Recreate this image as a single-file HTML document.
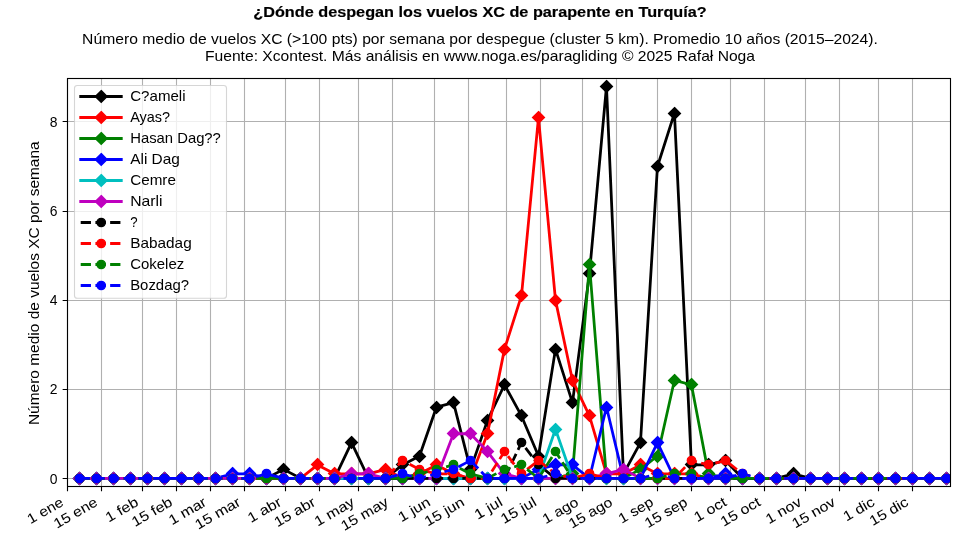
<!DOCTYPE html><html><head><meta charset="utf-8"><title>XC Turquía</title><style>html,body{margin:0;padding:0;background:#fff;overflow:hidden;}svg{display:block;will-change:transform;}</style></head><body>
<svg width="960" height="540" viewBox="0 0 960 540" font-family='"Liberation Sans", sans-serif'>
<rect width="960" height="540" fill="#fff"/>
<text stroke="#000" stroke-width="0.16" x="480.00" y="17.20" text-anchor="middle" font-weight="bold" font-size="13.9" textLength="453.38" lengthAdjust="spacingAndGlyphs">¿Dónde despegan los vuelos XC de parapente en Turquía?</text>
<text x="480.00" y="43.70" text-anchor="middle" font-size="13.9" textLength="795.77" lengthAdjust="spacingAndGlyphs">Número medio de vuelos XC (&gt;100 pts) por semana por despegue (cluster 5 km). Promedio 10 años (2015–2024).</text>
<text x="480.00" y="60.80" text-anchor="middle" font-size="13.9" textLength="550.03" lengthAdjust="spacingAndGlyphs">Fuente: Xcontest. Más análisis en www.noga.es/paragliding © 2025 Rafał Noga</text>
<text transform="translate(39,283.2) rotate(-90)" text-anchor="middle" font-size="13.9" textLength="283.79" lengthAdjust="spacingAndGlyphs">Número medio de vuelos XC por semana</text>
<defs><clipPath id="ax"><rect x="67.5" y="78.5" width="883.0" height="408.0"/></clipPath></defs>
<path d="M67.5,78.5V486.5M101.5,78.5V486.5M142.5,78.5V486.5M176.5,78.5V486.5M210.5,78.5V486.5M244.5,78.5V486.5M285.5,78.5V486.5M319.5,78.5V486.5M358.5,78.5V486.5M392.5,78.5V486.5M434.5,78.5V486.5M468.5,78.5V486.5M506.5,78.5V486.5M540.5,78.5V486.5M582.5,78.5V486.5M616.5,78.5V486.5M657.5,78.5V486.5M691.5,78.5V486.5M730.5,78.5V486.5M764.5,78.5V486.5M805.5,78.5V486.5M839.5,78.5V486.5M878.5,78.5V486.5M912.5,78.5V486.5M67.5,478.5H950.5M67.5,389.5H950.5M67.5,300.5H950.5M67.5,211.5H950.5M67.5,121.5H950.5" stroke="#b0b0b0" stroke-width="1.111" fill="none"/>
<g clip-path="url(#ax)">
<polyline points="79.59,478.30 96.59,478.30 113.58,478.30 130.58,478.30 147.57,478.30 164.57,478.30 181.57,478.30 198.56,478.30 215.56,478.30 232.55,478.30 249.55,478.30 266.55,478.30 283.54,469.39 300.54,478.30 317.53,478.30 334.53,478.30 351.53,442.67 368.52,478.30 385.52,478.30 402.51,464.94 419.51,456.03 436.51,407.04 453.50,402.58 470.50,469.39 487.49,420.40 504.49,384.77 521.49,415.94 538.48,456.03 555.48,349.13 572.47,402.58 589.47,273.42 606.47,86.35 623.46,473.85 640.46,442.67 657.45,166.52 674.45,113.07 691.45,464.94 708.44,464.94 725.44,460.48 742.43,478.30 759.43,478.30 776.43,478.30 793.42,473.85 810.42,478.30 827.41,478.30 844.41,478.30 861.41,478.30 878.40,478.30 895.40,478.30 912.39,478.30 929.39,478.30 946.39,478.30" fill="none" stroke="#000000" stroke-width="2.778" stroke-linejoin="round" stroke-linecap="butt"/>
<path d="M79.50,472.61L85.39,478.50L79.50,484.39L73.61,478.50Z" fill="#000000" stroke="#000000" stroke-width="1.389" stroke-linejoin="miter"/>
<path d="M96.50,472.61L102.39,478.50L96.50,484.39L90.61,478.50Z" fill="#000000" stroke="#000000" stroke-width="1.389" stroke-linejoin="miter"/>
<path d="M113.50,472.61L119.39,478.50L113.50,484.39L107.61,478.50Z" fill="#000000" stroke="#000000" stroke-width="1.389" stroke-linejoin="miter"/>
<path d="M130.50,472.61L136.39,478.50L130.50,484.39L124.61,478.50Z" fill="#000000" stroke="#000000" stroke-width="1.389" stroke-linejoin="miter"/>
<path d="M147.50,472.61L153.39,478.50L147.50,484.39L141.61,478.50Z" fill="#000000" stroke="#000000" stroke-width="1.389" stroke-linejoin="miter"/>
<path d="M164.50,472.61L170.39,478.50L164.50,484.39L158.61,478.50Z" fill="#000000" stroke="#000000" stroke-width="1.389" stroke-linejoin="miter"/>
<path d="M181.50,472.61L187.39,478.50L181.50,484.39L175.61,478.50Z" fill="#000000" stroke="#000000" stroke-width="1.389" stroke-linejoin="miter"/>
<path d="M198.50,472.61L204.39,478.50L198.50,484.39L192.61,478.50Z" fill="#000000" stroke="#000000" stroke-width="1.389" stroke-linejoin="miter"/>
<path d="M215.50,472.61L221.39,478.50L215.50,484.39L209.61,478.50Z" fill="#000000" stroke="#000000" stroke-width="1.389" stroke-linejoin="miter"/>
<path d="M232.50,472.61L238.39,478.50L232.50,484.39L226.61,478.50Z" fill="#000000" stroke="#000000" stroke-width="1.389" stroke-linejoin="miter"/>
<path d="M249.50,472.61L255.39,478.50L249.50,484.39L243.61,478.50Z" fill="#000000" stroke="#000000" stroke-width="1.389" stroke-linejoin="miter"/>
<path d="M266.50,472.61L272.39,478.50L266.50,484.39L260.61,478.50Z" fill="#000000" stroke="#000000" stroke-width="1.389" stroke-linejoin="miter"/>
<path d="M283.50,463.61L289.39,469.50L283.50,475.39L277.61,469.50Z" fill="#000000" stroke="#000000" stroke-width="1.389" stroke-linejoin="miter"/>
<path d="M300.50,472.61L306.39,478.50L300.50,484.39L294.61,478.50Z" fill="#000000" stroke="#000000" stroke-width="1.389" stroke-linejoin="miter"/>
<path d="M317.50,472.61L323.39,478.50L317.50,484.39L311.61,478.50Z" fill="#000000" stroke="#000000" stroke-width="1.389" stroke-linejoin="miter"/>
<path d="M334.50,472.61L340.39,478.50L334.50,484.39L328.61,478.50Z" fill="#000000" stroke="#000000" stroke-width="1.389" stroke-linejoin="miter"/>
<path d="M351.50,436.61L357.39,442.50L351.50,448.39L345.61,442.50Z" fill="#000000" stroke="#000000" stroke-width="1.389" stroke-linejoin="miter"/>
<path d="M368.50,472.61L374.39,478.50L368.50,484.39L362.61,478.50Z" fill="#000000" stroke="#000000" stroke-width="1.389" stroke-linejoin="miter"/>
<path d="M385.50,472.61L391.39,478.50L385.50,484.39L379.61,478.50Z" fill="#000000" stroke="#000000" stroke-width="1.389" stroke-linejoin="miter"/>
<path d="M402.50,458.61L408.39,464.50L402.50,470.39L396.61,464.50Z" fill="#000000" stroke="#000000" stroke-width="1.389" stroke-linejoin="miter"/>
<path d="M419.50,450.61L425.39,456.50L419.50,462.39L413.61,456.50Z" fill="#000000" stroke="#000000" stroke-width="1.389" stroke-linejoin="miter"/>
<path d="M436.50,401.61L442.39,407.50L436.50,413.39L430.61,407.50Z" fill="#000000" stroke="#000000" stroke-width="1.389" stroke-linejoin="miter"/>
<path d="M453.50,396.61L459.39,402.50L453.50,408.39L447.61,402.50Z" fill="#000000" stroke="#000000" stroke-width="1.389" stroke-linejoin="miter"/>
<path d="M470.50,463.61L476.39,469.50L470.50,475.39L464.61,469.50Z" fill="#000000" stroke="#000000" stroke-width="1.389" stroke-linejoin="miter"/>
<path d="M487.50,414.61L493.39,420.50L487.50,426.39L481.61,420.50Z" fill="#000000" stroke="#000000" stroke-width="1.389" stroke-linejoin="miter"/>
<path d="M504.50,378.61L510.39,384.50L504.50,390.39L498.61,384.50Z" fill="#000000" stroke="#000000" stroke-width="1.389" stroke-linejoin="miter"/>
<path d="M521.50,409.61L527.39,415.50L521.50,421.39L515.61,415.50Z" fill="#000000" stroke="#000000" stroke-width="1.389" stroke-linejoin="miter"/>
<path d="M538.50,450.61L544.39,456.50L538.50,462.39L532.61,456.50Z" fill="#000000" stroke="#000000" stroke-width="1.389" stroke-linejoin="miter"/>
<path d="M555.50,343.61L561.39,349.50L555.50,355.39L549.61,349.50Z" fill="#000000" stroke="#000000" stroke-width="1.389" stroke-linejoin="miter"/>
<path d="M572.50,396.61L578.39,402.50L572.50,408.39L566.61,402.50Z" fill="#000000" stroke="#000000" stroke-width="1.389" stroke-linejoin="miter"/>
<path d="M589.50,267.61L595.39,273.50L589.50,279.39L583.61,273.50Z" fill="#000000" stroke="#000000" stroke-width="1.389" stroke-linejoin="miter"/>
<path d="M606.50,80.61L612.39,86.50L606.50,92.39L600.61,86.50Z" fill="#000000" stroke="#000000" stroke-width="1.389" stroke-linejoin="miter"/>
<path d="M623.50,467.61L629.39,473.50L623.50,479.39L617.61,473.50Z" fill="#000000" stroke="#000000" stroke-width="1.389" stroke-linejoin="miter"/>
<path d="M640.50,436.61L646.39,442.50L640.50,448.39L634.61,442.50Z" fill="#000000" stroke="#000000" stroke-width="1.389" stroke-linejoin="miter"/>
<path d="M657.50,160.61L663.39,166.50L657.50,172.39L651.61,166.50Z" fill="#000000" stroke="#000000" stroke-width="1.389" stroke-linejoin="miter"/>
<path d="M674.50,107.61L680.39,113.50L674.50,119.39L668.61,113.50Z" fill="#000000" stroke="#000000" stroke-width="1.389" stroke-linejoin="miter"/>
<path d="M691.50,458.61L697.39,464.50L691.50,470.39L685.61,464.50Z" fill="#000000" stroke="#000000" stroke-width="1.389" stroke-linejoin="miter"/>
<path d="M708.50,458.61L714.39,464.50L708.50,470.39L702.61,464.50Z" fill="#000000" stroke="#000000" stroke-width="1.389" stroke-linejoin="miter"/>
<path d="M725.50,454.61L731.39,460.50L725.50,466.39L719.61,460.50Z" fill="#000000" stroke="#000000" stroke-width="1.389" stroke-linejoin="miter"/>
<path d="M742.50,472.61L748.39,478.50L742.50,484.39L736.61,478.50Z" fill="#000000" stroke="#000000" stroke-width="1.389" stroke-linejoin="miter"/>
<path d="M759.50,472.61L765.39,478.50L759.50,484.39L753.61,478.50Z" fill="#000000" stroke="#000000" stroke-width="1.389" stroke-linejoin="miter"/>
<path d="M776.50,472.61L782.39,478.50L776.50,484.39L770.61,478.50Z" fill="#000000" stroke="#000000" stroke-width="1.389" stroke-linejoin="miter"/>
<path d="M793.50,467.61L799.39,473.50L793.50,479.39L787.61,473.50Z" fill="#000000" stroke="#000000" stroke-width="1.389" stroke-linejoin="miter"/>
<path d="M810.50,472.61L816.39,478.50L810.50,484.39L804.61,478.50Z" fill="#000000" stroke="#000000" stroke-width="1.389" stroke-linejoin="miter"/>
<path d="M827.50,472.61L833.39,478.50L827.50,484.39L821.61,478.50Z" fill="#000000" stroke="#000000" stroke-width="1.389" stroke-linejoin="miter"/>
<path d="M844.50,472.61L850.39,478.50L844.50,484.39L838.61,478.50Z" fill="#000000" stroke="#000000" stroke-width="1.389" stroke-linejoin="miter"/>
<path d="M861.50,472.61L867.39,478.50L861.50,484.39L855.61,478.50Z" fill="#000000" stroke="#000000" stroke-width="1.389" stroke-linejoin="miter"/>
<path d="M878.50,472.61L884.39,478.50L878.50,484.39L872.61,478.50Z" fill="#000000" stroke="#000000" stroke-width="1.389" stroke-linejoin="miter"/>
<path d="M895.50,472.61L901.39,478.50L895.50,484.39L889.61,478.50Z" fill="#000000" stroke="#000000" stroke-width="1.389" stroke-linejoin="miter"/>
<path d="M912.50,472.61L918.39,478.50L912.50,484.39L906.61,478.50Z" fill="#000000" stroke="#000000" stroke-width="1.389" stroke-linejoin="miter"/>
<path d="M929.50,472.61L935.39,478.50L929.50,484.39L923.61,478.50Z" fill="#000000" stroke="#000000" stroke-width="1.389" stroke-linejoin="miter"/>
<path d="M946.50,472.61L952.39,478.50L946.50,484.39L940.61,478.50Z" fill="#000000" stroke="#000000" stroke-width="1.389" stroke-linejoin="miter"/>
<polyline points="79.59,478.30 96.59,478.30 113.58,478.30 130.58,478.30 147.57,478.30 164.57,478.30 181.57,478.30 198.56,478.30 215.56,478.30 232.55,478.30 249.55,478.30 266.55,478.30 283.54,478.30 300.54,478.30 317.53,464.94 334.53,473.85 351.53,473.85 368.52,473.85 385.52,469.39 402.51,478.30 419.51,473.85 436.51,464.94 453.50,473.85 470.50,478.30 487.49,433.76 504.49,349.13 521.49,295.69 538.48,117.53 555.48,300.14 572.47,380.31 589.47,415.94 606.47,473.85 623.46,473.85 640.46,464.94 657.45,473.85 674.45,473.85 691.45,473.85 708.44,478.30 725.44,478.30 742.43,478.30 759.43,478.30 776.43,478.30 793.42,478.30 810.42,478.30 827.41,478.30 844.41,478.30 861.41,478.30 878.40,478.30 895.40,478.30 912.39,478.30 929.39,478.30 946.39,478.30" fill="none" stroke="#ff0000" stroke-width="2.778" stroke-linejoin="round" stroke-linecap="butt"/>
<path d="M79.50,472.61L85.39,478.50L79.50,484.39L73.61,478.50Z" fill="#ff0000" stroke="#ff0000" stroke-width="1.389" stroke-linejoin="miter"/>
<path d="M96.50,472.61L102.39,478.50L96.50,484.39L90.61,478.50Z" fill="#ff0000" stroke="#ff0000" stroke-width="1.389" stroke-linejoin="miter"/>
<path d="M113.50,472.61L119.39,478.50L113.50,484.39L107.61,478.50Z" fill="#ff0000" stroke="#ff0000" stroke-width="1.389" stroke-linejoin="miter"/>
<path d="M130.50,472.61L136.39,478.50L130.50,484.39L124.61,478.50Z" fill="#ff0000" stroke="#ff0000" stroke-width="1.389" stroke-linejoin="miter"/>
<path d="M147.50,472.61L153.39,478.50L147.50,484.39L141.61,478.50Z" fill="#ff0000" stroke="#ff0000" stroke-width="1.389" stroke-linejoin="miter"/>
<path d="M164.50,472.61L170.39,478.50L164.50,484.39L158.61,478.50Z" fill="#ff0000" stroke="#ff0000" stroke-width="1.389" stroke-linejoin="miter"/>
<path d="M181.50,472.61L187.39,478.50L181.50,484.39L175.61,478.50Z" fill="#ff0000" stroke="#ff0000" stroke-width="1.389" stroke-linejoin="miter"/>
<path d="M198.50,472.61L204.39,478.50L198.50,484.39L192.61,478.50Z" fill="#ff0000" stroke="#ff0000" stroke-width="1.389" stroke-linejoin="miter"/>
<path d="M215.50,472.61L221.39,478.50L215.50,484.39L209.61,478.50Z" fill="#ff0000" stroke="#ff0000" stroke-width="1.389" stroke-linejoin="miter"/>
<path d="M232.50,472.61L238.39,478.50L232.50,484.39L226.61,478.50Z" fill="#ff0000" stroke="#ff0000" stroke-width="1.389" stroke-linejoin="miter"/>
<path d="M249.50,472.61L255.39,478.50L249.50,484.39L243.61,478.50Z" fill="#ff0000" stroke="#ff0000" stroke-width="1.389" stroke-linejoin="miter"/>
<path d="M266.50,472.61L272.39,478.50L266.50,484.39L260.61,478.50Z" fill="#ff0000" stroke="#ff0000" stroke-width="1.389" stroke-linejoin="miter"/>
<path d="M283.50,472.61L289.39,478.50L283.50,484.39L277.61,478.50Z" fill="#ff0000" stroke="#ff0000" stroke-width="1.389" stroke-linejoin="miter"/>
<path d="M300.50,472.61L306.39,478.50L300.50,484.39L294.61,478.50Z" fill="#ff0000" stroke="#ff0000" stroke-width="1.389" stroke-linejoin="miter"/>
<path d="M317.50,458.61L323.39,464.50L317.50,470.39L311.61,464.50Z" fill="#ff0000" stroke="#ff0000" stroke-width="1.389" stroke-linejoin="miter"/>
<path d="M334.50,467.61L340.39,473.50L334.50,479.39L328.61,473.50Z" fill="#ff0000" stroke="#ff0000" stroke-width="1.389" stroke-linejoin="miter"/>
<path d="M351.50,467.61L357.39,473.50L351.50,479.39L345.61,473.50Z" fill="#ff0000" stroke="#ff0000" stroke-width="1.389" stroke-linejoin="miter"/>
<path d="M368.50,467.61L374.39,473.50L368.50,479.39L362.61,473.50Z" fill="#ff0000" stroke="#ff0000" stroke-width="1.389" stroke-linejoin="miter"/>
<path d="M385.50,463.61L391.39,469.50L385.50,475.39L379.61,469.50Z" fill="#ff0000" stroke="#ff0000" stroke-width="1.389" stroke-linejoin="miter"/>
<path d="M402.50,472.61L408.39,478.50L402.50,484.39L396.61,478.50Z" fill="#ff0000" stroke="#ff0000" stroke-width="1.389" stroke-linejoin="miter"/>
<path d="M419.50,467.61L425.39,473.50L419.50,479.39L413.61,473.50Z" fill="#ff0000" stroke="#ff0000" stroke-width="1.389" stroke-linejoin="miter"/>
<path d="M436.50,458.61L442.39,464.50L436.50,470.39L430.61,464.50Z" fill="#ff0000" stroke="#ff0000" stroke-width="1.389" stroke-linejoin="miter"/>
<path d="M453.50,467.61L459.39,473.50L453.50,479.39L447.61,473.50Z" fill="#ff0000" stroke="#ff0000" stroke-width="1.389" stroke-linejoin="miter"/>
<path d="M470.50,472.61L476.39,478.50L470.50,484.39L464.61,478.50Z" fill="#ff0000" stroke="#ff0000" stroke-width="1.389" stroke-linejoin="miter"/>
<path d="M487.50,427.61L493.39,433.50L487.50,439.39L481.61,433.50Z" fill="#ff0000" stroke="#ff0000" stroke-width="1.389" stroke-linejoin="miter"/>
<path d="M504.50,343.61L510.39,349.50L504.50,355.39L498.61,349.50Z" fill="#ff0000" stroke="#ff0000" stroke-width="1.389" stroke-linejoin="miter"/>
<path d="M521.50,289.61L527.39,295.50L521.50,301.39L515.61,295.50Z" fill="#ff0000" stroke="#ff0000" stroke-width="1.389" stroke-linejoin="miter"/>
<path d="M538.50,111.61L544.39,117.50L538.50,123.39L532.61,117.50Z" fill="#ff0000" stroke="#ff0000" stroke-width="1.389" stroke-linejoin="miter"/>
<path d="M555.50,294.61L561.39,300.50L555.50,306.39L549.61,300.50Z" fill="#ff0000" stroke="#ff0000" stroke-width="1.389" stroke-linejoin="miter"/>
<path d="M572.50,374.61L578.39,380.50L572.50,386.39L566.61,380.50Z" fill="#ff0000" stroke="#ff0000" stroke-width="1.389" stroke-linejoin="miter"/>
<path d="M589.50,409.61L595.39,415.50L589.50,421.39L583.61,415.50Z" fill="#ff0000" stroke="#ff0000" stroke-width="1.389" stroke-linejoin="miter"/>
<path d="M606.50,467.61L612.39,473.50L606.50,479.39L600.61,473.50Z" fill="#ff0000" stroke="#ff0000" stroke-width="1.389" stroke-linejoin="miter"/>
<path d="M623.50,467.61L629.39,473.50L623.50,479.39L617.61,473.50Z" fill="#ff0000" stroke="#ff0000" stroke-width="1.389" stroke-linejoin="miter"/>
<path d="M640.50,458.61L646.39,464.50L640.50,470.39L634.61,464.50Z" fill="#ff0000" stroke="#ff0000" stroke-width="1.389" stroke-linejoin="miter"/>
<path d="M657.50,467.61L663.39,473.50L657.50,479.39L651.61,473.50Z" fill="#ff0000" stroke="#ff0000" stroke-width="1.389" stroke-linejoin="miter"/>
<path d="M674.50,467.61L680.39,473.50L674.50,479.39L668.61,473.50Z" fill="#ff0000" stroke="#ff0000" stroke-width="1.389" stroke-linejoin="miter"/>
<path d="M691.50,467.61L697.39,473.50L691.50,479.39L685.61,473.50Z" fill="#ff0000" stroke="#ff0000" stroke-width="1.389" stroke-linejoin="miter"/>
<path d="M708.50,472.61L714.39,478.50L708.50,484.39L702.61,478.50Z" fill="#ff0000" stroke="#ff0000" stroke-width="1.389" stroke-linejoin="miter"/>
<path d="M725.50,472.61L731.39,478.50L725.50,484.39L719.61,478.50Z" fill="#ff0000" stroke="#ff0000" stroke-width="1.389" stroke-linejoin="miter"/>
<path d="M742.50,472.61L748.39,478.50L742.50,484.39L736.61,478.50Z" fill="#ff0000" stroke="#ff0000" stroke-width="1.389" stroke-linejoin="miter"/>
<path d="M759.50,472.61L765.39,478.50L759.50,484.39L753.61,478.50Z" fill="#ff0000" stroke="#ff0000" stroke-width="1.389" stroke-linejoin="miter"/>
<path d="M776.50,472.61L782.39,478.50L776.50,484.39L770.61,478.50Z" fill="#ff0000" stroke="#ff0000" stroke-width="1.389" stroke-linejoin="miter"/>
<path d="M793.50,472.61L799.39,478.50L793.50,484.39L787.61,478.50Z" fill="#ff0000" stroke="#ff0000" stroke-width="1.389" stroke-linejoin="miter"/>
<path d="M810.50,472.61L816.39,478.50L810.50,484.39L804.61,478.50Z" fill="#ff0000" stroke="#ff0000" stroke-width="1.389" stroke-linejoin="miter"/>
<path d="M827.50,472.61L833.39,478.50L827.50,484.39L821.61,478.50Z" fill="#ff0000" stroke="#ff0000" stroke-width="1.389" stroke-linejoin="miter"/>
<path d="M844.50,472.61L850.39,478.50L844.50,484.39L838.61,478.50Z" fill="#ff0000" stroke="#ff0000" stroke-width="1.389" stroke-linejoin="miter"/>
<path d="M861.50,472.61L867.39,478.50L861.50,484.39L855.61,478.50Z" fill="#ff0000" stroke="#ff0000" stroke-width="1.389" stroke-linejoin="miter"/>
<path d="M878.50,472.61L884.39,478.50L878.50,484.39L872.61,478.50Z" fill="#ff0000" stroke="#ff0000" stroke-width="1.389" stroke-linejoin="miter"/>
<path d="M895.50,472.61L901.39,478.50L895.50,484.39L889.61,478.50Z" fill="#ff0000" stroke="#ff0000" stroke-width="1.389" stroke-linejoin="miter"/>
<path d="M912.50,472.61L918.39,478.50L912.50,484.39L906.61,478.50Z" fill="#ff0000" stroke="#ff0000" stroke-width="1.389" stroke-linejoin="miter"/>
<path d="M929.50,472.61L935.39,478.50L929.50,484.39L923.61,478.50Z" fill="#ff0000" stroke="#ff0000" stroke-width="1.389" stroke-linejoin="miter"/>
<path d="M946.50,472.61L952.39,478.50L946.50,484.39L940.61,478.50Z" fill="#ff0000" stroke="#ff0000" stroke-width="1.389" stroke-linejoin="miter"/>
<polyline points="79.59,478.30 96.59,478.30 113.58,478.30 130.58,478.30 147.57,478.30 164.57,478.30 181.57,478.30 198.56,478.30 215.56,478.30 232.55,478.30 249.55,478.30 266.55,478.30 283.54,478.30 300.54,478.30 317.53,478.30 334.53,478.30 351.53,478.30 368.52,478.30 385.52,478.30 402.51,478.30 419.51,478.30 436.51,478.30 453.50,478.30 470.50,478.30 487.49,478.30 504.49,478.30 521.49,478.30 538.48,478.30 555.48,478.30 572.47,473.85 589.47,264.51 606.47,478.30 623.46,478.30 640.46,469.39 657.45,456.03 674.45,380.31 691.45,384.77 708.44,473.85 725.44,478.30 742.43,478.30 759.43,478.30 776.43,478.30 793.42,478.30 810.42,478.30 827.41,478.30 844.41,478.30 861.41,478.30 878.40,478.30 895.40,478.30 912.39,478.30 929.39,478.30 946.39,478.30" fill="none" stroke="#008000" stroke-width="2.778" stroke-linejoin="round" stroke-linecap="butt"/>
<path d="M79.50,472.61L85.39,478.50L79.50,484.39L73.61,478.50Z" fill="#008000" stroke="#008000" stroke-width="1.389" stroke-linejoin="miter"/>
<path d="M96.50,472.61L102.39,478.50L96.50,484.39L90.61,478.50Z" fill="#008000" stroke="#008000" stroke-width="1.389" stroke-linejoin="miter"/>
<path d="M113.50,472.61L119.39,478.50L113.50,484.39L107.61,478.50Z" fill="#008000" stroke="#008000" stroke-width="1.389" stroke-linejoin="miter"/>
<path d="M130.50,472.61L136.39,478.50L130.50,484.39L124.61,478.50Z" fill="#008000" stroke="#008000" stroke-width="1.389" stroke-linejoin="miter"/>
<path d="M147.50,472.61L153.39,478.50L147.50,484.39L141.61,478.50Z" fill="#008000" stroke="#008000" stroke-width="1.389" stroke-linejoin="miter"/>
<path d="M164.50,472.61L170.39,478.50L164.50,484.39L158.61,478.50Z" fill="#008000" stroke="#008000" stroke-width="1.389" stroke-linejoin="miter"/>
<path d="M181.50,472.61L187.39,478.50L181.50,484.39L175.61,478.50Z" fill="#008000" stroke="#008000" stroke-width="1.389" stroke-linejoin="miter"/>
<path d="M198.50,472.61L204.39,478.50L198.50,484.39L192.61,478.50Z" fill="#008000" stroke="#008000" stroke-width="1.389" stroke-linejoin="miter"/>
<path d="M215.50,472.61L221.39,478.50L215.50,484.39L209.61,478.50Z" fill="#008000" stroke="#008000" stroke-width="1.389" stroke-linejoin="miter"/>
<path d="M232.50,472.61L238.39,478.50L232.50,484.39L226.61,478.50Z" fill="#008000" stroke="#008000" stroke-width="1.389" stroke-linejoin="miter"/>
<path d="M249.50,472.61L255.39,478.50L249.50,484.39L243.61,478.50Z" fill="#008000" stroke="#008000" stroke-width="1.389" stroke-linejoin="miter"/>
<path d="M266.50,472.61L272.39,478.50L266.50,484.39L260.61,478.50Z" fill="#008000" stroke="#008000" stroke-width="1.389" stroke-linejoin="miter"/>
<path d="M283.50,472.61L289.39,478.50L283.50,484.39L277.61,478.50Z" fill="#008000" stroke="#008000" stroke-width="1.389" stroke-linejoin="miter"/>
<path d="M300.50,472.61L306.39,478.50L300.50,484.39L294.61,478.50Z" fill="#008000" stroke="#008000" stroke-width="1.389" stroke-linejoin="miter"/>
<path d="M317.50,472.61L323.39,478.50L317.50,484.39L311.61,478.50Z" fill="#008000" stroke="#008000" stroke-width="1.389" stroke-linejoin="miter"/>
<path d="M334.50,472.61L340.39,478.50L334.50,484.39L328.61,478.50Z" fill="#008000" stroke="#008000" stroke-width="1.389" stroke-linejoin="miter"/>
<path d="M351.50,472.61L357.39,478.50L351.50,484.39L345.61,478.50Z" fill="#008000" stroke="#008000" stroke-width="1.389" stroke-linejoin="miter"/>
<path d="M368.50,472.61L374.39,478.50L368.50,484.39L362.61,478.50Z" fill="#008000" stroke="#008000" stroke-width="1.389" stroke-linejoin="miter"/>
<path d="M385.50,472.61L391.39,478.50L385.50,484.39L379.61,478.50Z" fill="#008000" stroke="#008000" stroke-width="1.389" stroke-linejoin="miter"/>
<path d="M402.50,472.61L408.39,478.50L402.50,484.39L396.61,478.50Z" fill="#008000" stroke="#008000" stroke-width="1.389" stroke-linejoin="miter"/>
<path d="M419.50,472.61L425.39,478.50L419.50,484.39L413.61,478.50Z" fill="#008000" stroke="#008000" stroke-width="1.389" stroke-linejoin="miter"/>
<path d="M436.50,472.61L442.39,478.50L436.50,484.39L430.61,478.50Z" fill="#008000" stroke="#008000" stroke-width="1.389" stroke-linejoin="miter"/>
<path d="M453.50,472.61L459.39,478.50L453.50,484.39L447.61,478.50Z" fill="#008000" stroke="#008000" stroke-width="1.389" stroke-linejoin="miter"/>
<path d="M470.50,472.61L476.39,478.50L470.50,484.39L464.61,478.50Z" fill="#008000" stroke="#008000" stroke-width="1.389" stroke-linejoin="miter"/>
<path d="M487.50,472.61L493.39,478.50L487.50,484.39L481.61,478.50Z" fill="#008000" stroke="#008000" stroke-width="1.389" stroke-linejoin="miter"/>
<path d="M504.50,472.61L510.39,478.50L504.50,484.39L498.61,478.50Z" fill="#008000" stroke="#008000" stroke-width="1.389" stroke-linejoin="miter"/>
<path d="M521.50,472.61L527.39,478.50L521.50,484.39L515.61,478.50Z" fill="#008000" stroke="#008000" stroke-width="1.389" stroke-linejoin="miter"/>
<path d="M538.50,472.61L544.39,478.50L538.50,484.39L532.61,478.50Z" fill="#008000" stroke="#008000" stroke-width="1.389" stroke-linejoin="miter"/>
<path d="M555.50,472.61L561.39,478.50L555.50,484.39L549.61,478.50Z" fill="#008000" stroke="#008000" stroke-width="1.389" stroke-linejoin="miter"/>
<path d="M572.50,467.61L578.39,473.50L572.50,479.39L566.61,473.50Z" fill="#008000" stroke="#008000" stroke-width="1.389" stroke-linejoin="miter"/>
<path d="M589.50,258.61L595.39,264.50L589.50,270.39L583.61,264.50Z" fill="#008000" stroke="#008000" stroke-width="1.389" stroke-linejoin="miter"/>
<path d="M606.50,472.61L612.39,478.50L606.50,484.39L600.61,478.50Z" fill="#008000" stroke="#008000" stroke-width="1.389" stroke-linejoin="miter"/>
<path d="M623.50,472.61L629.39,478.50L623.50,484.39L617.61,478.50Z" fill="#008000" stroke="#008000" stroke-width="1.389" stroke-linejoin="miter"/>
<path d="M640.50,463.61L646.39,469.50L640.50,475.39L634.61,469.50Z" fill="#008000" stroke="#008000" stroke-width="1.389" stroke-linejoin="miter"/>
<path d="M657.50,450.61L663.39,456.50L657.50,462.39L651.61,456.50Z" fill="#008000" stroke="#008000" stroke-width="1.389" stroke-linejoin="miter"/>
<path d="M674.50,374.61L680.39,380.50L674.50,386.39L668.61,380.50Z" fill="#008000" stroke="#008000" stroke-width="1.389" stroke-linejoin="miter"/>
<path d="M691.50,378.61L697.39,384.50L691.50,390.39L685.61,384.50Z" fill="#008000" stroke="#008000" stroke-width="1.389" stroke-linejoin="miter"/>
<path d="M708.50,467.61L714.39,473.50L708.50,479.39L702.61,473.50Z" fill="#008000" stroke="#008000" stroke-width="1.389" stroke-linejoin="miter"/>
<path d="M725.50,472.61L731.39,478.50L725.50,484.39L719.61,478.50Z" fill="#008000" stroke="#008000" stroke-width="1.389" stroke-linejoin="miter"/>
<path d="M742.50,472.61L748.39,478.50L742.50,484.39L736.61,478.50Z" fill="#008000" stroke="#008000" stroke-width="1.389" stroke-linejoin="miter"/>
<path d="M759.50,472.61L765.39,478.50L759.50,484.39L753.61,478.50Z" fill="#008000" stroke="#008000" stroke-width="1.389" stroke-linejoin="miter"/>
<path d="M776.50,472.61L782.39,478.50L776.50,484.39L770.61,478.50Z" fill="#008000" stroke="#008000" stroke-width="1.389" stroke-linejoin="miter"/>
<path d="M793.50,472.61L799.39,478.50L793.50,484.39L787.61,478.50Z" fill="#008000" stroke="#008000" stroke-width="1.389" stroke-linejoin="miter"/>
<path d="M810.50,472.61L816.39,478.50L810.50,484.39L804.61,478.50Z" fill="#008000" stroke="#008000" stroke-width="1.389" stroke-linejoin="miter"/>
<path d="M827.50,472.61L833.39,478.50L827.50,484.39L821.61,478.50Z" fill="#008000" stroke="#008000" stroke-width="1.389" stroke-linejoin="miter"/>
<path d="M844.50,472.61L850.39,478.50L844.50,484.39L838.61,478.50Z" fill="#008000" stroke="#008000" stroke-width="1.389" stroke-linejoin="miter"/>
<path d="M861.50,472.61L867.39,478.50L861.50,484.39L855.61,478.50Z" fill="#008000" stroke="#008000" stroke-width="1.389" stroke-linejoin="miter"/>
<path d="M878.50,472.61L884.39,478.50L878.50,484.39L872.61,478.50Z" fill="#008000" stroke="#008000" stroke-width="1.389" stroke-linejoin="miter"/>
<path d="M895.50,472.61L901.39,478.50L895.50,484.39L889.61,478.50Z" fill="#008000" stroke="#008000" stroke-width="1.389" stroke-linejoin="miter"/>
<path d="M912.50,472.61L918.39,478.50L912.50,484.39L906.61,478.50Z" fill="#008000" stroke="#008000" stroke-width="1.389" stroke-linejoin="miter"/>
<path d="M929.50,472.61L935.39,478.50L929.50,484.39L923.61,478.50Z" fill="#008000" stroke="#008000" stroke-width="1.389" stroke-linejoin="miter"/>
<path d="M946.50,472.61L952.39,478.50L946.50,484.39L940.61,478.50Z" fill="#008000" stroke="#008000" stroke-width="1.389" stroke-linejoin="miter"/>
<polyline points="79.59,478.30 96.59,478.30 113.58,478.30 130.58,478.30 147.57,478.30 164.57,478.30 181.57,478.30 198.56,478.30 215.56,478.30 232.55,473.85 249.55,473.85 266.55,478.30 283.54,478.30 300.54,478.30 317.53,478.30 334.53,478.30 351.53,478.30 368.52,478.30 385.52,478.30 402.51,478.30 419.51,478.30 436.51,478.30 453.50,478.30 470.50,478.30 487.49,478.30 504.49,478.30 521.49,478.30 538.48,469.39 555.48,464.94 572.47,464.94 589.47,478.30 606.47,407.04 623.46,478.30 640.46,478.30 657.45,442.67 674.45,478.30 691.45,478.30 708.44,478.30 725.44,473.85 742.43,478.30 759.43,478.30 776.43,478.30 793.42,478.30 810.42,478.30 827.41,478.30 844.41,478.30 861.41,478.30 878.40,478.30 895.40,478.30 912.39,478.30 929.39,478.30 946.39,478.30" fill="none" stroke="#0000ff" stroke-width="2.778" stroke-linejoin="round" stroke-linecap="butt"/>
<path d="M79.50,472.61L85.39,478.50L79.50,484.39L73.61,478.50Z" fill="#0000ff" stroke="#0000ff" stroke-width="1.389" stroke-linejoin="miter"/>
<path d="M96.50,472.61L102.39,478.50L96.50,484.39L90.61,478.50Z" fill="#0000ff" stroke="#0000ff" stroke-width="1.389" stroke-linejoin="miter"/>
<path d="M113.50,472.61L119.39,478.50L113.50,484.39L107.61,478.50Z" fill="#0000ff" stroke="#0000ff" stroke-width="1.389" stroke-linejoin="miter"/>
<path d="M130.50,472.61L136.39,478.50L130.50,484.39L124.61,478.50Z" fill="#0000ff" stroke="#0000ff" stroke-width="1.389" stroke-linejoin="miter"/>
<path d="M147.50,472.61L153.39,478.50L147.50,484.39L141.61,478.50Z" fill="#0000ff" stroke="#0000ff" stroke-width="1.389" stroke-linejoin="miter"/>
<path d="M164.50,472.61L170.39,478.50L164.50,484.39L158.61,478.50Z" fill="#0000ff" stroke="#0000ff" stroke-width="1.389" stroke-linejoin="miter"/>
<path d="M181.50,472.61L187.39,478.50L181.50,484.39L175.61,478.50Z" fill="#0000ff" stroke="#0000ff" stroke-width="1.389" stroke-linejoin="miter"/>
<path d="M198.50,472.61L204.39,478.50L198.50,484.39L192.61,478.50Z" fill="#0000ff" stroke="#0000ff" stroke-width="1.389" stroke-linejoin="miter"/>
<path d="M215.50,472.61L221.39,478.50L215.50,484.39L209.61,478.50Z" fill="#0000ff" stroke="#0000ff" stroke-width="1.389" stroke-linejoin="miter"/>
<path d="M232.50,467.61L238.39,473.50L232.50,479.39L226.61,473.50Z" fill="#0000ff" stroke="#0000ff" stroke-width="1.389" stroke-linejoin="miter"/>
<path d="M249.50,467.61L255.39,473.50L249.50,479.39L243.61,473.50Z" fill="#0000ff" stroke="#0000ff" stroke-width="1.389" stroke-linejoin="miter"/>
<path d="M266.50,472.61L272.39,478.50L266.50,484.39L260.61,478.50Z" fill="#0000ff" stroke="#0000ff" stroke-width="1.389" stroke-linejoin="miter"/>
<path d="M283.50,472.61L289.39,478.50L283.50,484.39L277.61,478.50Z" fill="#0000ff" stroke="#0000ff" stroke-width="1.389" stroke-linejoin="miter"/>
<path d="M300.50,472.61L306.39,478.50L300.50,484.39L294.61,478.50Z" fill="#0000ff" stroke="#0000ff" stroke-width="1.389" stroke-linejoin="miter"/>
<path d="M317.50,472.61L323.39,478.50L317.50,484.39L311.61,478.50Z" fill="#0000ff" stroke="#0000ff" stroke-width="1.389" stroke-linejoin="miter"/>
<path d="M334.50,472.61L340.39,478.50L334.50,484.39L328.61,478.50Z" fill="#0000ff" stroke="#0000ff" stroke-width="1.389" stroke-linejoin="miter"/>
<path d="M351.50,472.61L357.39,478.50L351.50,484.39L345.61,478.50Z" fill="#0000ff" stroke="#0000ff" stroke-width="1.389" stroke-linejoin="miter"/>
<path d="M368.50,472.61L374.39,478.50L368.50,484.39L362.61,478.50Z" fill="#0000ff" stroke="#0000ff" stroke-width="1.389" stroke-linejoin="miter"/>
<path d="M385.50,472.61L391.39,478.50L385.50,484.39L379.61,478.50Z" fill="#0000ff" stroke="#0000ff" stroke-width="1.389" stroke-linejoin="miter"/>
<path d="M402.50,472.61L408.39,478.50L402.50,484.39L396.61,478.50Z" fill="#0000ff" stroke="#0000ff" stroke-width="1.389" stroke-linejoin="miter"/>
<path d="M419.50,472.61L425.39,478.50L419.50,484.39L413.61,478.50Z" fill="#0000ff" stroke="#0000ff" stroke-width="1.389" stroke-linejoin="miter"/>
<path d="M436.50,472.61L442.39,478.50L436.50,484.39L430.61,478.50Z" fill="#0000ff" stroke="#0000ff" stroke-width="1.389" stroke-linejoin="miter"/>
<path d="M453.50,472.61L459.39,478.50L453.50,484.39L447.61,478.50Z" fill="#0000ff" stroke="#0000ff" stroke-width="1.389" stroke-linejoin="miter"/>
<path d="M470.50,472.61L476.39,478.50L470.50,484.39L464.61,478.50Z" fill="#0000ff" stroke="#0000ff" stroke-width="1.389" stroke-linejoin="miter"/>
<path d="M487.50,472.61L493.39,478.50L487.50,484.39L481.61,478.50Z" fill="#0000ff" stroke="#0000ff" stroke-width="1.389" stroke-linejoin="miter"/>
<path d="M504.50,472.61L510.39,478.50L504.50,484.39L498.61,478.50Z" fill="#0000ff" stroke="#0000ff" stroke-width="1.389" stroke-linejoin="miter"/>
<path d="M521.50,472.61L527.39,478.50L521.50,484.39L515.61,478.50Z" fill="#0000ff" stroke="#0000ff" stroke-width="1.389" stroke-linejoin="miter"/>
<path d="M538.50,463.61L544.39,469.50L538.50,475.39L532.61,469.50Z" fill="#0000ff" stroke="#0000ff" stroke-width="1.389" stroke-linejoin="miter"/>
<path d="M555.50,458.61L561.39,464.50L555.50,470.39L549.61,464.50Z" fill="#0000ff" stroke="#0000ff" stroke-width="1.389" stroke-linejoin="miter"/>
<path d="M572.50,458.61L578.39,464.50L572.50,470.39L566.61,464.50Z" fill="#0000ff" stroke="#0000ff" stroke-width="1.389" stroke-linejoin="miter"/>
<path d="M589.50,472.61L595.39,478.50L589.50,484.39L583.61,478.50Z" fill="#0000ff" stroke="#0000ff" stroke-width="1.389" stroke-linejoin="miter"/>
<path d="M606.50,401.61L612.39,407.50L606.50,413.39L600.61,407.50Z" fill="#0000ff" stroke="#0000ff" stroke-width="1.389" stroke-linejoin="miter"/>
<path d="M623.50,472.61L629.39,478.50L623.50,484.39L617.61,478.50Z" fill="#0000ff" stroke="#0000ff" stroke-width="1.389" stroke-linejoin="miter"/>
<path d="M640.50,472.61L646.39,478.50L640.50,484.39L634.61,478.50Z" fill="#0000ff" stroke="#0000ff" stroke-width="1.389" stroke-linejoin="miter"/>
<path d="M657.50,436.61L663.39,442.50L657.50,448.39L651.61,442.50Z" fill="#0000ff" stroke="#0000ff" stroke-width="1.389" stroke-linejoin="miter"/>
<path d="M674.50,472.61L680.39,478.50L674.50,484.39L668.61,478.50Z" fill="#0000ff" stroke="#0000ff" stroke-width="1.389" stroke-linejoin="miter"/>
<path d="M691.50,472.61L697.39,478.50L691.50,484.39L685.61,478.50Z" fill="#0000ff" stroke="#0000ff" stroke-width="1.389" stroke-linejoin="miter"/>
<path d="M708.50,472.61L714.39,478.50L708.50,484.39L702.61,478.50Z" fill="#0000ff" stroke="#0000ff" stroke-width="1.389" stroke-linejoin="miter"/>
<path d="M725.50,467.61L731.39,473.50L725.50,479.39L719.61,473.50Z" fill="#0000ff" stroke="#0000ff" stroke-width="1.389" stroke-linejoin="miter"/>
<path d="M742.50,472.61L748.39,478.50L742.50,484.39L736.61,478.50Z" fill="#0000ff" stroke="#0000ff" stroke-width="1.389" stroke-linejoin="miter"/>
<path d="M759.50,472.61L765.39,478.50L759.50,484.39L753.61,478.50Z" fill="#0000ff" stroke="#0000ff" stroke-width="1.389" stroke-linejoin="miter"/>
<path d="M776.50,472.61L782.39,478.50L776.50,484.39L770.61,478.50Z" fill="#0000ff" stroke="#0000ff" stroke-width="1.389" stroke-linejoin="miter"/>
<path d="M793.50,472.61L799.39,478.50L793.50,484.39L787.61,478.50Z" fill="#0000ff" stroke="#0000ff" stroke-width="1.389" stroke-linejoin="miter"/>
<path d="M810.50,472.61L816.39,478.50L810.50,484.39L804.61,478.50Z" fill="#0000ff" stroke="#0000ff" stroke-width="1.389" stroke-linejoin="miter"/>
<path d="M827.50,472.61L833.39,478.50L827.50,484.39L821.61,478.50Z" fill="#0000ff" stroke="#0000ff" stroke-width="1.389" stroke-linejoin="miter"/>
<path d="M844.50,472.61L850.39,478.50L844.50,484.39L838.61,478.50Z" fill="#0000ff" stroke="#0000ff" stroke-width="1.389" stroke-linejoin="miter"/>
<path d="M861.50,472.61L867.39,478.50L861.50,484.39L855.61,478.50Z" fill="#0000ff" stroke="#0000ff" stroke-width="1.389" stroke-linejoin="miter"/>
<path d="M878.50,472.61L884.39,478.50L878.50,484.39L872.61,478.50Z" fill="#0000ff" stroke="#0000ff" stroke-width="1.389" stroke-linejoin="miter"/>
<path d="M895.50,472.61L901.39,478.50L895.50,484.39L889.61,478.50Z" fill="#0000ff" stroke="#0000ff" stroke-width="1.389" stroke-linejoin="miter"/>
<path d="M912.50,472.61L918.39,478.50L912.50,484.39L906.61,478.50Z" fill="#0000ff" stroke="#0000ff" stroke-width="1.389" stroke-linejoin="miter"/>
<path d="M929.50,472.61L935.39,478.50L929.50,484.39L923.61,478.50Z" fill="#0000ff" stroke="#0000ff" stroke-width="1.389" stroke-linejoin="miter"/>
<path d="M946.50,472.61L952.39,478.50L946.50,484.39L940.61,478.50Z" fill="#0000ff" stroke="#0000ff" stroke-width="1.389" stroke-linejoin="miter"/>
<polyline points="79.59,478.30 96.59,478.30 113.58,478.30 130.58,478.30 147.57,478.30 164.57,478.30 181.57,478.30 198.56,478.30 215.56,478.30 232.55,478.30 249.55,478.30 266.55,478.30 283.54,478.30 300.54,478.30 317.53,478.30 334.53,478.30 351.53,478.30 368.52,478.30 385.52,478.30 402.51,478.30 419.51,478.30 436.51,478.30 453.50,478.30 470.50,478.30 487.49,478.30 504.49,478.30 521.49,478.30 538.48,478.30 555.48,429.31 572.47,478.30 589.47,478.30 606.47,478.30 623.46,478.30 640.46,478.30 657.45,478.30 674.45,478.30 691.45,478.30 708.44,478.30 725.44,478.30 742.43,478.30 759.43,478.30 776.43,478.30 793.42,478.30 810.42,478.30 827.41,478.30 844.41,478.30 861.41,478.30 878.40,478.30 895.40,478.30 912.39,478.30 929.39,478.30 946.39,478.30" fill="none" stroke="#00bfbf" stroke-width="2.778" stroke-linejoin="round" stroke-linecap="butt"/>
<path d="M79.50,472.61L85.39,478.50L79.50,484.39L73.61,478.50Z" fill="#00bfbf" stroke="#00bfbf" stroke-width="1.389" stroke-linejoin="miter"/>
<path d="M96.50,472.61L102.39,478.50L96.50,484.39L90.61,478.50Z" fill="#00bfbf" stroke="#00bfbf" stroke-width="1.389" stroke-linejoin="miter"/>
<path d="M113.50,472.61L119.39,478.50L113.50,484.39L107.61,478.50Z" fill="#00bfbf" stroke="#00bfbf" stroke-width="1.389" stroke-linejoin="miter"/>
<path d="M130.50,472.61L136.39,478.50L130.50,484.39L124.61,478.50Z" fill="#00bfbf" stroke="#00bfbf" stroke-width="1.389" stroke-linejoin="miter"/>
<path d="M147.50,472.61L153.39,478.50L147.50,484.39L141.61,478.50Z" fill="#00bfbf" stroke="#00bfbf" stroke-width="1.389" stroke-linejoin="miter"/>
<path d="M164.50,472.61L170.39,478.50L164.50,484.39L158.61,478.50Z" fill="#00bfbf" stroke="#00bfbf" stroke-width="1.389" stroke-linejoin="miter"/>
<path d="M181.50,472.61L187.39,478.50L181.50,484.39L175.61,478.50Z" fill="#00bfbf" stroke="#00bfbf" stroke-width="1.389" stroke-linejoin="miter"/>
<path d="M198.50,472.61L204.39,478.50L198.50,484.39L192.61,478.50Z" fill="#00bfbf" stroke="#00bfbf" stroke-width="1.389" stroke-linejoin="miter"/>
<path d="M215.50,472.61L221.39,478.50L215.50,484.39L209.61,478.50Z" fill="#00bfbf" stroke="#00bfbf" stroke-width="1.389" stroke-linejoin="miter"/>
<path d="M232.50,472.61L238.39,478.50L232.50,484.39L226.61,478.50Z" fill="#00bfbf" stroke="#00bfbf" stroke-width="1.389" stroke-linejoin="miter"/>
<path d="M249.50,472.61L255.39,478.50L249.50,484.39L243.61,478.50Z" fill="#00bfbf" stroke="#00bfbf" stroke-width="1.389" stroke-linejoin="miter"/>
<path d="M266.50,472.61L272.39,478.50L266.50,484.39L260.61,478.50Z" fill="#00bfbf" stroke="#00bfbf" stroke-width="1.389" stroke-linejoin="miter"/>
<path d="M283.50,472.61L289.39,478.50L283.50,484.39L277.61,478.50Z" fill="#00bfbf" stroke="#00bfbf" stroke-width="1.389" stroke-linejoin="miter"/>
<path d="M300.50,472.61L306.39,478.50L300.50,484.39L294.61,478.50Z" fill="#00bfbf" stroke="#00bfbf" stroke-width="1.389" stroke-linejoin="miter"/>
<path d="M317.50,472.61L323.39,478.50L317.50,484.39L311.61,478.50Z" fill="#00bfbf" stroke="#00bfbf" stroke-width="1.389" stroke-linejoin="miter"/>
<path d="M334.50,472.61L340.39,478.50L334.50,484.39L328.61,478.50Z" fill="#00bfbf" stroke="#00bfbf" stroke-width="1.389" stroke-linejoin="miter"/>
<path d="M351.50,472.61L357.39,478.50L351.50,484.39L345.61,478.50Z" fill="#00bfbf" stroke="#00bfbf" stroke-width="1.389" stroke-linejoin="miter"/>
<path d="M368.50,472.61L374.39,478.50L368.50,484.39L362.61,478.50Z" fill="#00bfbf" stroke="#00bfbf" stroke-width="1.389" stroke-linejoin="miter"/>
<path d="M385.50,472.61L391.39,478.50L385.50,484.39L379.61,478.50Z" fill="#00bfbf" stroke="#00bfbf" stroke-width="1.389" stroke-linejoin="miter"/>
<path d="M402.50,472.61L408.39,478.50L402.50,484.39L396.61,478.50Z" fill="#00bfbf" stroke="#00bfbf" stroke-width="1.389" stroke-linejoin="miter"/>
<path d="M419.50,472.61L425.39,478.50L419.50,484.39L413.61,478.50Z" fill="#00bfbf" stroke="#00bfbf" stroke-width="1.389" stroke-linejoin="miter"/>
<path d="M436.50,472.61L442.39,478.50L436.50,484.39L430.61,478.50Z" fill="#00bfbf" stroke="#00bfbf" stroke-width="1.389" stroke-linejoin="miter"/>
<path d="M453.50,472.61L459.39,478.50L453.50,484.39L447.61,478.50Z" fill="#00bfbf" stroke="#00bfbf" stroke-width="1.389" stroke-linejoin="miter"/>
<path d="M470.50,472.61L476.39,478.50L470.50,484.39L464.61,478.50Z" fill="#00bfbf" stroke="#00bfbf" stroke-width="1.389" stroke-linejoin="miter"/>
<path d="M487.50,472.61L493.39,478.50L487.50,484.39L481.61,478.50Z" fill="#00bfbf" stroke="#00bfbf" stroke-width="1.389" stroke-linejoin="miter"/>
<path d="M504.50,472.61L510.39,478.50L504.50,484.39L498.61,478.50Z" fill="#00bfbf" stroke="#00bfbf" stroke-width="1.389" stroke-linejoin="miter"/>
<path d="M521.50,472.61L527.39,478.50L521.50,484.39L515.61,478.50Z" fill="#00bfbf" stroke="#00bfbf" stroke-width="1.389" stroke-linejoin="miter"/>
<path d="M538.50,472.61L544.39,478.50L538.50,484.39L532.61,478.50Z" fill="#00bfbf" stroke="#00bfbf" stroke-width="1.389" stroke-linejoin="miter"/>
<path d="M555.50,423.61L561.39,429.50L555.50,435.39L549.61,429.50Z" fill="#00bfbf" stroke="#00bfbf" stroke-width="1.389" stroke-linejoin="miter"/>
<path d="M572.50,472.61L578.39,478.50L572.50,484.39L566.61,478.50Z" fill="#00bfbf" stroke="#00bfbf" stroke-width="1.389" stroke-linejoin="miter"/>
<path d="M589.50,472.61L595.39,478.50L589.50,484.39L583.61,478.50Z" fill="#00bfbf" stroke="#00bfbf" stroke-width="1.389" stroke-linejoin="miter"/>
<path d="M606.50,472.61L612.39,478.50L606.50,484.39L600.61,478.50Z" fill="#00bfbf" stroke="#00bfbf" stroke-width="1.389" stroke-linejoin="miter"/>
<path d="M623.50,472.61L629.39,478.50L623.50,484.39L617.61,478.50Z" fill="#00bfbf" stroke="#00bfbf" stroke-width="1.389" stroke-linejoin="miter"/>
<path d="M640.50,472.61L646.39,478.50L640.50,484.39L634.61,478.50Z" fill="#00bfbf" stroke="#00bfbf" stroke-width="1.389" stroke-linejoin="miter"/>
<path d="M657.50,472.61L663.39,478.50L657.50,484.39L651.61,478.50Z" fill="#00bfbf" stroke="#00bfbf" stroke-width="1.389" stroke-linejoin="miter"/>
<path d="M674.50,472.61L680.39,478.50L674.50,484.39L668.61,478.50Z" fill="#00bfbf" stroke="#00bfbf" stroke-width="1.389" stroke-linejoin="miter"/>
<path d="M691.50,472.61L697.39,478.50L691.50,484.39L685.61,478.50Z" fill="#00bfbf" stroke="#00bfbf" stroke-width="1.389" stroke-linejoin="miter"/>
<path d="M708.50,472.61L714.39,478.50L708.50,484.39L702.61,478.50Z" fill="#00bfbf" stroke="#00bfbf" stroke-width="1.389" stroke-linejoin="miter"/>
<path d="M725.50,472.61L731.39,478.50L725.50,484.39L719.61,478.50Z" fill="#00bfbf" stroke="#00bfbf" stroke-width="1.389" stroke-linejoin="miter"/>
<path d="M742.50,472.61L748.39,478.50L742.50,484.39L736.61,478.50Z" fill="#00bfbf" stroke="#00bfbf" stroke-width="1.389" stroke-linejoin="miter"/>
<path d="M759.50,472.61L765.39,478.50L759.50,484.39L753.61,478.50Z" fill="#00bfbf" stroke="#00bfbf" stroke-width="1.389" stroke-linejoin="miter"/>
<path d="M776.50,472.61L782.39,478.50L776.50,484.39L770.61,478.50Z" fill="#00bfbf" stroke="#00bfbf" stroke-width="1.389" stroke-linejoin="miter"/>
<path d="M793.50,472.61L799.39,478.50L793.50,484.39L787.61,478.50Z" fill="#00bfbf" stroke="#00bfbf" stroke-width="1.389" stroke-linejoin="miter"/>
<path d="M810.50,472.61L816.39,478.50L810.50,484.39L804.61,478.50Z" fill="#00bfbf" stroke="#00bfbf" stroke-width="1.389" stroke-linejoin="miter"/>
<path d="M827.50,472.61L833.39,478.50L827.50,484.39L821.61,478.50Z" fill="#00bfbf" stroke="#00bfbf" stroke-width="1.389" stroke-linejoin="miter"/>
<path d="M844.50,472.61L850.39,478.50L844.50,484.39L838.61,478.50Z" fill="#00bfbf" stroke="#00bfbf" stroke-width="1.389" stroke-linejoin="miter"/>
<path d="M861.50,472.61L867.39,478.50L861.50,484.39L855.61,478.50Z" fill="#00bfbf" stroke="#00bfbf" stroke-width="1.389" stroke-linejoin="miter"/>
<path d="M878.50,472.61L884.39,478.50L878.50,484.39L872.61,478.50Z" fill="#00bfbf" stroke="#00bfbf" stroke-width="1.389" stroke-linejoin="miter"/>
<path d="M895.50,472.61L901.39,478.50L895.50,484.39L889.61,478.50Z" fill="#00bfbf" stroke="#00bfbf" stroke-width="1.389" stroke-linejoin="miter"/>
<path d="M912.50,472.61L918.39,478.50L912.50,484.39L906.61,478.50Z" fill="#00bfbf" stroke="#00bfbf" stroke-width="1.389" stroke-linejoin="miter"/>
<path d="M929.50,472.61L935.39,478.50L929.50,484.39L923.61,478.50Z" fill="#00bfbf" stroke="#00bfbf" stroke-width="1.389" stroke-linejoin="miter"/>
<path d="M946.50,472.61L952.39,478.50L946.50,484.39L940.61,478.50Z" fill="#00bfbf" stroke="#00bfbf" stroke-width="1.389" stroke-linejoin="miter"/>
<polyline points="79.59,478.30 96.59,478.30 113.58,478.30 130.58,478.30 147.57,478.30 164.57,478.30 181.57,478.30 198.56,478.30 215.56,478.30 232.55,478.30 249.55,478.30 266.55,478.30 283.54,478.30 300.54,478.30 317.53,478.30 334.53,478.30 351.53,473.85 368.52,473.85 385.52,478.30 402.51,478.30 419.51,478.30 436.51,478.30 453.50,433.76 470.50,433.76 487.49,451.58 504.49,473.85 521.49,478.30 538.48,478.30 555.48,478.30 572.47,478.30 589.47,478.30 606.47,473.85 623.46,469.39 640.46,478.30 657.45,478.30 674.45,478.30 691.45,478.30 708.44,478.30 725.44,478.30 742.43,478.30 759.43,478.30 776.43,478.30 793.42,478.30 810.42,478.30 827.41,478.30 844.41,478.30 861.41,478.30 878.40,478.30 895.40,478.30 912.39,478.30 929.39,478.30 946.39,478.30" fill="none" stroke="#bf00bf" stroke-width="2.778" stroke-linejoin="round" stroke-linecap="butt"/>
<path d="M79.50,472.61L85.39,478.50L79.50,484.39L73.61,478.50Z" fill="#bf00bf" stroke="#bf00bf" stroke-width="1.389" stroke-linejoin="miter"/>
<path d="M96.50,472.61L102.39,478.50L96.50,484.39L90.61,478.50Z" fill="#bf00bf" stroke="#bf00bf" stroke-width="1.389" stroke-linejoin="miter"/>
<path d="M113.50,472.61L119.39,478.50L113.50,484.39L107.61,478.50Z" fill="#bf00bf" stroke="#bf00bf" stroke-width="1.389" stroke-linejoin="miter"/>
<path d="M130.50,472.61L136.39,478.50L130.50,484.39L124.61,478.50Z" fill="#bf00bf" stroke="#bf00bf" stroke-width="1.389" stroke-linejoin="miter"/>
<path d="M147.50,472.61L153.39,478.50L147.50,484.39L141.61,478.50Z" fill="#bf00bf" stroke="#bf00bf" stroke-width="1.389" stroke-linejoin="miter"/>
<path d="M164.50,472.61L170.39,478.50L164.50,484.39L158.61,478.50Z" fill="#bf00bf" stroke="#bf00bf" stroke-width="1.389" stroke-linejoin="miter"/>
<path d="M181.50,472.61L187.39,478.50L181.50,484.39L175.61,478.50Z" fill="#bf00bf" stroke="#bf00bf" stroke-width="1.389" stroke-linejoin="miter"/>
<path d="M198.50,472.61L204.39,478.50L198.50,484.39L192.61,478.50Z" fill="#bf00bf" stroke="#bf00bf" stroke-width="1.389" stroke-linejoin="miter"/>
<path d="M215.50,472.61L221.39,478.50L215.50,484.39L209.61,478.50Z" fill="#bf00bf" stroke="#bf00bf" stroke-width="1.389" stroke-linejoin="miter"/>
<path d="M232.50,472.61L238.39,478.50L232.50,484.39L226.61,478.50Z" fill="#bf00bf" stroke="#bf00bf" stroke-width="1.389" stroke-linejoin="miter"/>
<path d="M249.50,472.61L255.39,478.50L249.50,484.39L243.61,478.50Z" fill="#bf00bf" stroke="#bf00bf" stroke-width="1.389" stroke-linejoin="miter"/>
<path d="M266.50,472.61L272.39,478.50L266.50,484.39L260.61,478.50Z" fill="#bf00bf" stroke="#bf00bf" stroke-width="1.389" stroke-linejoin="miter"/>
<path d="M283.50,472.61L289.39,478.50L283.50,484.39L277.61,478.50Z" fill="#bf00bf" stroke="#bf00bf" stroke-width="1.389" stroke-linejoin="miter"/>
<path d="M300.50,472.61L306.39,478.50L300.50,484.39L294.61,478.50Z" fill="#bf00bf" stroke="#bf00bf" stroke-width="1.389" stroke-linejoin="miter"/>
<path d="M317.50,472.61L323.39,478.50L317.50,484.39L311.61,478.50Z" fill="#bf00bf" stroke="#bf00bf" stroke-width="1.389" stroke-linejoin="miter"/>
<path d="M334.50,472.61L340.39,478.50L334.50,484.39L328.61,478.50Z" fill="#bf00bf" stroke="#bf00bf" stroke-width="1.389" stroke-linejoin="miter"/>
<path d="M351.50,467.61L357.39,473.50L351.50,479.39L345.61,473.50Z" fill="#bf00bf" stroke="#bf00bf" stroke-width="1.389" stroke-linejoin="miter"/>
<path d="M368.50,467.61L374.39,473.50L368.50,479.39L362.61,473.50Z" fill="#bf00bf" stroke="#bf00bf" stroke-width="1.389" stroke-linejoin="miter"/>
<path d="M385.50,472.61L391.39,478.50L385.50,484.39L379.61,478.50Z" fill="#bf00bf" stroke="#bf00bf" stroke-width="1.389" stroke-linejoin="miter"/>
<path d="M402.50,472.61L408.39,478.50L402.50,484.39L396.61,478.50Z" fill="#bf00bf" stroke="#bf00bf" stroke-width="1.389" stroke-linejoin="miter"/>
<path d="M419.50,472.61L425.39,478.50L419.50,484.39L413.61,478.50Z" fill="#bf00bf" stroke="#bf00bf" stroke-width="1.389" stroke-linejoin="miter"/>
<path d="M436.50,472.61L442.39,478.50L436.50,484.39L430.61,478.50Z" fill="#bf00bf" stroke="#bf00bf" stroke-width="1.389" stroke-linejoin="miter"/>
<path d="M453.50,427.61L459.39,433.50L453.50,439.39L447.61,433.50Z" fill="#bf00bf" stroke="#bf00bf" stroke-width="1.389" stroke-linejoin="miter"/>
<path d="M470.50,427.61L476.39,433.50L470.50,439.39L464.61,433.50Z" fill="#bf00bf" stroke="#bf00bf" stroke-width="1.389" stroke-linejoin="miter"/>
<path d="M487.50,445.61L493.39,451.50L487.50,457.39L481.61,451.50Z" fill="#bf00bf" stroke="#bf00bf" stroke-width="1.389" stroke-linejoin="miter"/>
<path d="M504.50,467.61L510.39,473.50L504.50,479.39L498.61,473.50Z" fill="#bf00bf" stroke="#bf00bf" stroke-width="1.389" stroke-linejoin="miter"/>
<path d="M521.50,472.61L527.39,478.50L521.50,484.39L515.61,478.50Z" fill="#bf00bf" stroke="#bf00bf" stroke-width="1.389" stroke-linejoin="miter"/>
<path d="M538.50,472.61L544.39,478.50L538.50,484.39L532.61,478.50Z" fill="#bf00bf" stroke="#bf00bf" stroke-width="1.389" stroke-linejoin="miter"/>
<path d="M555.50,472.61L561.39,478.50L555.50,484.39L549.61,478.50Z" fill="#bf00bf" stroke="#bf00bf" stroke-width="1.389" stroke-linejoin="miter"/>
<path d="M572.50,472.61L578.39,478.50L572.50,484.39L566.61,478.50Z" fill="#bf00bf" stroke="#bf00bf" stroke-width="1.389" stroke-linejoin="miter"/>
<path d="M589.50,472.61L595.39,478.50L589.50,484.39L583.61,478.50Z" fill="#bf00bf" stroke="#bf00bf" stroke-width="1.389" stroke-linejoin="miter"/>
<path d="M606.50,467.61L612.39,473.50L606.50,479.39L600.61,473.50Z" fill="#bf00bf" stroke="#bf00bf" stroke-width="1.389" stroke-linejoin="miter"/>
<path d="M623.50,463.61L629.39,469.50L623.50,475.39L617.61,469.50Z" fill="#bf00bf" stroke="#bf00bf" stroke-width="1.389" stroke-linejoin="miter"/>
<path d="M640.50,472.61L646.39,478.50L640.50,484.39L634.61,478.50Z" fill="#bf00bf" stroke="#bf00bf" stroke-width="1.389" stroke-linejoin="miter"/>
<path d="M657.50,472.61L663.39,478.50L657.50,484.39L651.61,478.50Z" fill="#bf00bf" stroke="#bf00bf" stroke-width="1.389" stroke-linejoin="miter"/>
<path d="M674.50,472.61L680.39,478.50L674.50,484.39L668.61,478.50Z" fill="#bf00bf" stroke="#bf00bf" stroke-width="1.389" stroke-linejoin="miter"/>
<path d="M691.50,472.61L697.39,478.50L691.50,484.39L685.61,478.50Z" fill="#bf00bf" stroke="#bf00bf" stroke-width="1.389" stroke-linejoin="miter"/>
<path d="M708.50,472.61L714.39,478.50L708.50,484.39L702.61,478.50Z" fill="#bf00bf" stroke="#bf00bf" stroke-width="1.389" stroke-linejoin="miter"/>
<path d="M725.50,472.61L731.39,478.50L725.50,484.39L719.61,478.50Z" fill="#bf00bf" stroke="#bf00bf" stroke-width="1.389" stroke-linejoin="miter"/>
<path d="M742.50,472.61L748.39,478.50L742.50,484.39L736.61,478.50Z" fill="#bf00bf" stroke="#bf00bf" stroke-width="1.389" stroke-linejoin="miter"/>
<path d="M759.50,472.61L765.39,478.50L759.50,484.39L753.61,478.50Z" fill="#bf00bf" stroke="#bf00bf" stroke-width="1.389" stroke-linejoin="miter"/>
<path d="M776.50,472.61L782.39,478.50L776.50,484.39L770.61,478.50Z" fill="#bf00bf" stroke="#bf00bf" stroke-width="1.389" stroke-linejoin="miter"/>
<path d="M793.50,472.61L799.39,478.50L793.50,484.39L787.61,478.50Z" fill="#bf00bf" stroke="#bf00bf" stroke-width="1.389" stroke-linejoin="miter"/>
<path d="M810.50,472.61L816.39,478.50L810.50,484.39L804.61,478.50Z" fill="#bf00bf" stroke="#bf00bf" stroke-width="1.389" stroke-linejoin="miter"/>
<path d="M827.50,472.61L833.39,478.50L827.50,484.39L821.61,478.50Z" fill="#bf00bf" stroke="#bf00bf" stroke-width="1.389" stroke-linejoin="miter"/>
<path d="M844.50,472.61L850.39,478.50L844.50,484.39L838.61,478.50Z" fill="#bf00bf" stroke="#bf00bf" stroke-width="1.389" stroke-linejoin="miter"/>
<path d="M861.50,472.61L867.39,478.50L861.50,484.39L855.61,478.50Z" fill="#bf00bf" stroke="#bf00bf" stroke-width="1.389" stroke-linejoin="miter"/>
<path d="M878.50,472.61L884.39,478.50L878.50,484.39L872.61,478.50Z" fill="#bf00bf" stroke="#bf00bf" stroke-width="1.389" stroke-linejoin="miter"/>
<path d="M895.50,472.61L901.39,478.50L895.50,484.39L889.61,478.50Z" fill="#bf00bf" stroke="#bf00bf" stroke-width="1.389" stroke-linejoin="miter"/>
<path d="M912.50,472.61L918.39,478.50L912.50,484.39L906.61,478.50Z" fill="#bf00bf" stroke="#bf00bf" stroke-width="1.389" stroke-linejoin="miter"/>
<path d="M929.50,472.61L935.39,478.50L929.50,484.39L923.61,478.50Z" fill="#bf00bf" stroke="#bf00bf" stroke-width="1.389" stroke-linejoin="miter"/>
<path d="M946.50,472.61L952.39,478.50L946.50,484.39L940.61,478.50Z" fill="#bf00bf" stroke="#bf00bf" stroke-width="1.389" stroke-linejoin="miter"/>
<polyline points="79.59,478.30 96.59,478.30 113.58,478.30 130.58,478.30 147.57,478.30 164.57,478.30 181.57,478.30 198.56,478.30 215.56,478.30 232.55,478.30 249.55,478.30 266.55,478.30 283.54,478.30 300.54,478.30 317.53,478.30 334.53,478.30 351.53,478.30 368.52,478.30 385.52,478.30 402.51,478.30 419.51,478.30 436.51,478.30 453.50,478.30 470.50,478.30 487.49,478.30 504.49,478.30 521.49,442.67 538.48,464.94 555.48,478.30 572.47,478.30 589.47,478.30 606.47,478.30 623.46,478.30 640.46,478.30 657.45,478.30 674.45,478.30 691.45,478.30 708.44,478.30 725.44,478.30 742.43,478.30 759.43,478.30 776.43,478.30 793.42,478.30 810.42,478.30 827.41,478.30 844.41,478.30 861.41,478.30 878.40,478.30 895.40,478.30 912.39,478.30 929.39,478.30 946.39,478.30" fill="none" stroke="#000000" stroke-width="2.778" stroke-linejoin="round" stroke-linecap="butt" stroke-dasharray="10.28,4.44"/>
<circle cx="79.50" cy="478.50" r="4.167" fill="#000000" stroke="#000000" stroke-width="1.389"/>
<circle cx="96.50" cy="478.50" r="4.167" fill="#000000" stroke="#000000" stroke-width="1.389"/>
<circle cx="113.50" cy="478.50" r="4.167" fill="#000000" stroke="#000000" stroke-width="1.389"/>
<circle cx="130.50" cy="478.50" r="4.167" fill="#000000" stroke="#000000" stroke-width="1.389"/>
<circle cx="147.50" cy="478.50" r="4.167" fill="#000000" stroke="#000000" stroke-width="1.389"/>
<circle cx="164.50" cy="478.50" r="4.167" fill="#000000" stroke="#000000" stroke-width="1.389"/>
<circle cx="181.50" cy="478.50" r="4.167" fill="#000000" stroke="#000000" stroke-width="1.389"/>
<circle cx="198.50" cy="478.50" r="4.167" fill="#000000" stroke="#000000" stroke-width="1.389"/>
<circle cx="215.50" cy="478.50" r="4.167" fill="#000000" stroke="#000000" stroke-width="1.389"/>
<circle cx="232.50" cy="478.50" r="4.167" fill="#000000" stroke="#000000" stroke-width="1.389"/>
<circle cx="249.50" cy="478.50" r="4.167" fill="#000000" stroke="#000000" stroke-width="1.389"/>
<circle cx="266.50" cy="478.50" r="4.167" fill="#000000" stroke="#000000" stroke-width="1.389"/>
<circle cx="283.50" cy="478.50" r="4.167" fill="#000000" stroke="#000000" stroke-width="1.389"/>
<circle cx="300.50" cy="478.50" r="4.167" fill="#000000" stroke="#000000" stroke-width="1.389"/>
<circle cx="317.50" cy="478.50" r="4.167" fill="#000000" stroke="#000000" stroke-width="1.389"/>
<circle cx="334.50" cy="478.50" r="4.167" fill="#000000" stroke="#000000" stroke-width="1.389"/>
<circle cx="351.50" cy="478.50" r="4.167" fill="#000000" stroke="#000000" stroke-width="1.389"/>
<circle cx="368.50" cy="478.50" r="4.167" fill="#000000" stroke="#000000" stroke-width="1.389"/>
<circle cx="385.50" cy="478.50" r="4.167" fill="#000000" stroke="#000000" stroke-width="1.389"/>
<circle cx="402.50" cy="478.50" r="4.167" fill="#000000" stroke="#000000" stroke-width="1.389"/>
<circle cx="419.50" cy="478.50" r="4.167" fill="#000000" stroke="#000000" stroke-width="1.389"/>
<circle cx="436.50" cy="478.50" r="4.167" fill="#000000" stroke="#000000" stroke-width="1.389"/>
<circle cx="453.50" cy="478.50" r="4.167" fill="#000000" stroke="#000000" stroke-width="1.389"/>
<circle cx="470.50" cy="478.50" r="4.167" fill="#000000" stroke="#000000" stroke-width="1.389"/>
<circle cx="487.50" cy="478.50" r="4.167" fill="#000000" stroke="#000000" stroke-width="1.389"/>
<circle cx="504.50" cy="478.50" r="4.167" fill="#000000" stroke="#000000" stroke-width="1.389"/>
<circle cx="521.50" cy="442.50" r="4.167" fill="#000000" stroke="#000000" stroke-width="1.389"/>
<circle cx="538.50" cy="464.50" r="4.167" fill="#000000" stroke="#000000" stroke-width="1.389"/>
<circle cx="555.50" cy="478.50" r="4.167" fill="#000000" stroke="#000000" stroke-width="1.389"/>
<circle cx="572.50" cy="478.50" r="4.167" fill="#000000" stroke="#000000" stroke-width="1.389"/>
<circle cx="589.50" cy="478.50" r="4.167" fill="#000000" stroke="#000000" stroke-width="1.389"/>
<circle cx="606.50" cy="478.50" r="4.167" fill="#000000" stroke="#000000" stroke-width="1.389"/>
<circle cx="623.50" cy="478.50" r="4.167" fill="#000000" stroke="#000000" stroke-width="1.389"/>
<circle cx="640.50" cy="478.50" r="4.167" fill="#000000" stroke="#000000" stroke-width="1.389"/>
<circle cx="657.50" cy="478.50" r="4.167" fill="#000000" stroke="#000000" stroke-width="1.389"/>
<circle cx="674.50" cy="478.50" r="4.167" fill="#000000" stroke="#000000" stroke-width="1.389"/>
<circle cx="691.50" cy="478.50" r="4.167" fill="#000000" stroke="#000000" stroke-width="1.389"/>
<circle cx="708.50" cy="478.50" r="4.167" fill="#000000" stroke="#000000" stroke-width="1.389"/>
<circle cx="725.50" cy="478.50" r="4.167" fill="#000000" stroke="#000000" stroke-width="1.389"/>
<circle cx="742.50" cy="478.50" r="4.167" fill="#000000" stroke="#000000" stroke-width="1.389"/>
<circle cx="759.50" cy="478.50" r="4.167" fill="#000000" stroke="#000000" stroke-width="1.389"/>
<circle cx="776.50" cy="478.50" r="4.167" fill="#000000" stroke="#000000" stroke-width="1.389"/>
<circle cx="793.50" cy="478.50" r="4.167" fill="#000000" stroke="#000000" stroke-width="1.389"/>
<circle cx="810.50" cy="478.50" r="4.167" fill="#000000" stroke="#000000" stroke-width="1.389"/>
<circle cx="827.50" cy="478.50" r="4.167" fill="#000000" stroke="#000000" stroke-width="1.389"/>
<circle cx="844.50" cy="478.50" r="4.167" fill="#000000" stroke="#000000" stroke-width="1.389"/>
<circle cx="861.50" cy="478.50" r="4.167" fill="#000000" stroke="#000000" stroke-width="1.389"/>
<circle cx="878.50" cy="478.50" r="4.167" fill="#000000" stroke="#000000" stroke-width="1.389"/>
<circle cx="895.50" cy="478.50" r="4.167" fill="#000000" stroke="#000000" stroke-width="1.389"/>
<circle cx="912.50" cy="478.50" r="4.167" fill="#000000" stroke="#000000" stroke-width="1.389"/>
<circle cx="929.50" cy="478.50" r="4.167" fill="#000000" stroke="#000000" stroke-width="1.389"/>
<circle cx="946.50" cy="478.50" r="4.167" fill="#000000" stroke="#000000" stroke-width="1.389"/>
<polyline points="79.59,478.30 96.59,478.30 113.58,478.30 130.58,478.30 147.57,478.30 164.57,478.30 181.57,478.30 198.56,478.30 215.56,478.30 232.55,478.30 249.55,478.30 266.55,478.30 283.54,478.30 300.54,478.30 317.53,478.30 334.53,478.30 351.53,478.30 368.52,478.30 385.52,478.30 402.51,460.48 419.51,469.39 436.51,473.85 453.50,473.85 470.50,478.30 487.49,478.30 504.49,451.58 521.49,473.85 538.48,460.48 555.48,473.85 572.47,478.30 589.47,473.85 606.47,478.30 623.46,478.30 640.46,478.30 657.45,478.30 674.45,478.30 691.45,460.48 708.44,464.94 725.44,460.48 742.43,473.85 759.43,478.30 776.43,478.30 793.42,478.30 810.42,478.30 827.41,478.30 844.41,478.30 861.41,478.30 878.40,478.30 895.40,478.30 912.39,478.30 929.39,478.30 946.39,478.30" fill="none" stroke="#ff0000" stroke-width="2.778" stroke-linejoin="round" stroke-linecap="butt" stroke-dasharray="10.28,4.44"/>
<circle cx="79.50" cy="478.50" r="4.167" fill="#ff0000" stroke="#ff0000" stroke-width="1.389"/>
<circle cx="96.50" cy="478.50" r="4.167" fill="#ff0000" stroke="#ff0000" stroke-width="1.389"/>
<circle cx="113.50" cy="478.50" r="4.167" fill="#ff0000" stroke="#ff0000" stroke-width="1.389"/>
<circle cx="130.50" cy="478.50" r="4.167" fill="#ff0000" stroke="#ff0000" stroke-width="1.389"/>
<circle cx="147.50" cy="478.50" r="4.167" fill="#ff0000" stroke="#ff0000" stroke-width="1.389"/>
<circle cx="164.50" cy="478.50" r="4.167" fill="#ff0000" stroke="#ff0000" stroke-width="1.389"/>
<circle cx="181.50" cy="478.50" r="4.167" fill="#ff0000" stroke="#ff0000" stroke-width="1.389"/>
<circle cx="198.50" cy="478.50" r="4.167" fill="#ff0000" stroke="#ff0000" stroke-width="1.389"/>
<circle cx="215.50" cy="478.50" r="4.167" fill="#ff0000" stroke="#ff0000" stroke-width="1.389"/>
<circle cx="232.50" cy="478.50" r="4.167" fill="#ff0000" stroke="#ff0000" stroke-width="1.389"/>
<circle cx="249.50" cy="478.50" r="4.167" fill="#ff0000" stroke="#ff0000" stroke-width="1.389"/>
<circle cx="266.50" cy="478.50" r="4.167" fill="#ff0000" stroke="#ff0000" stroke-width="1.389"/>
<circle cx="283.50" cy="478.50" r="4.167" fill="#ff0000" stroke="#ff0000" stroke-width="1.389"/>
<circle cx="300.50" cy="478.50" r="4.167" fill="#ff0000" stroke="#ff0000" stroke-width="1.389"/>
<circle cx="317.50" cy="478.50" r="4.167" fill="#ff0000" stroke="#ff0000" stroke-width="1.389"/>
<circle cx="334.50" cy="478.50" r="4.167" fill="#ff0000" stroke="#ff0000" stroke-width="1.389"/>
<circle cx="351.50" cy="478.50" r="4.167" fill="#ff0000" stroke="#ff0000" stroke-width="1.389"/>
<circle cx="368.50" cy="478.50" r="4.167" fill="#ff0000" stroke="#ff0000" stroke-width="1.389"/>
<circle cx="385.50" cy="478.50" r="4.167" fill="#ff0000" stroke="#ff0000" stroke-width="1.389"/>
<circle cx="402.50" cy="460.50" r="4.167" fill="#ff0000" stroke="#ff0000" stroke-width="1.389"/>
<circle cx="419.50" cy="469.50" r="4.167" fill="#ff0000" stroke="#ff0000" stroke-width="1.389"/>
<circle cx="436.50" cy="473.50" r="4.167" fill="#ff0000" stroke="#ff0000" stroke-width="1.389"/>
<circle cx="453.50" cy="473.50" r="4.167" fill="#ff0000" stroke="#ff0000" stroke-width="1.389"/>
<circle cx="470.50" cy="478.50" r="4.167" fill="#ff0000" stroke="#ff0000" stroke-width="1.389"/>
<circle cx="487.50" cy="478.50" r="4.167" fill="#ff0000" stroke="#ff0000" stroke-width="1.389"/>
<circle cx="504.50" cy="451.50" r="4.167" fill="#ff0000" stroke="#ff0000" stroke-width="1.389"/>
<circle cx="521.50" cy="473.50" r="4.167" fill="#ff0000" stroke="#ff0000" stroke-width="1.389"/>
<circle cx="538.50" cy="460.50" r="4.167" fill="#ff0000" stroke="#ff0000" stroke-width="1.389"/>
<circle cx="555.50" cy="473.50" r="4.167" fill="#ff0000" stroke="#ff0000" stroke-width="1.389"/>
<circle cx="572.50" cy="478.50" r="4.167" fill="#ff0000" stroke="#ff0000" stroke-width="1.389"/>
<circle cx="589.50" cy="473.50" r="4.167" fill="#ff0000" stroke="#ff0000" stroke-width="1.389"/>
<circle cx="606.50" cy="478.50" r="4.167" fill="#ff0000" stroke="#ff0000" stroke-width="1.389"/>
<circle cx="623.50" cy="478.50" r="4.167" fill="#ff0000" stroke="#ff0000" stroke-width="1.389"/>
<circle cx="640.50" cy="478.50" r="4.167" fill="#ff0000" stroke="#ff0000" stroke-width="1.389"/>
<circle cx="657.50" cy="478.50" r="4.167" fill="#ff0000" stroke="#ff0000" stroke-width="1.389"/>
<circle cx="674.50" cy="478.50" r="4.167" fill="#ff0000" stroke="#ff0000" stroke-width="1.389"/>
<circle cx="691.50" cy="460.50" r="4.167" fill="#ff0000" stroke="#ff0000" stroke-width="1.389"/>
<circle cx="708.50" cy="464.50" r="4.167" fill="#ff0000" stroke="#ff0000" stroke-width="1.389"/>
<circle cx="725.50" cy="460.50" r="4.167" fill="#ff0000" stroke="#ff0000" stroke-width="1.389"/>
<circle cx="742.50" cy="473.50" r="4.167" fill="#ff0000" stroke="#ff0000" stroke-width="1.389"/>
<circle cx="759.50" cy="478.50" r="4.167" fill="#ff0000" stroke="#ff0000" stroke-width="1.389"/>
<circle cx="776.50" cy="478.50" r="4.167" fill="#ff0000" stroke="#ff0000" stroke-width="1.389"/>
<circle cx="793.50" cy="478.50" r="4.167" fill="#ff0000" stroke="#ff0000" stroke-width="1.389"/>
<circle cx="810.50" cy="478.50" r="4.167" fill="#ff0000" stroke="#ff0000" stroke-width="1.389"/>
<circle cx="827.50" cy="478.50" r="4.167" fill="#ff0000" stroke="#ff0000" stroke-width="1.389"/>
<circle cx="844.50" cy="478.50" r="4.167" fill="#ff0000" stroke="#ff0000" stroke-width="1.389"/>
<circle cx="861.50" cy="478.50" r="4.167" fill="#ff0000" stroke="#ff0000" stroke-width="1.389"/>
<circle cx="878.50" cy="478.50" r="4.167" fill="#ff0000" stroke="#ff0000" stroke-width="1.389"/>
<circle cx="895.50" cy="478.50" r="4.167" fill="#ff0000" stroke="#ff0000" stroke-width="1.389"/>
<circle cx="912.50" cy="478.50" r="4.167" fill="#ff0000" stroke="#ff0000" stroke-width="1.389"/>
<circle cx="929.50" cy="478.50" r="4.167" fill="#ff0000" stroke="#ff0000" stroke-width="1.389"/>
<circle cx="946.50" cy="478.50" r="4.167" fill="#ff0000" stroke="#ff0000" stroke-width="1.389"/>
<polyline points="79.59,478.30 96.59,478.30 113.58,478.30 130.58,478.30 147.57,478.30 164.57,478.30 181.57,478.30 198.56,478.30 215.56,478.30 232.55,478.30 249.55,478.30 266.55,478.30 283.54,478.30 300.54,478.30 317.53,478.30 334.53,478.30 351.53,478.30 368.52,478.30 385.52,478.30 402.51,478.30 419.51,473.85 436.51,469.39 453.50,464.94 470.50,473.85 487.49,478.30 504.49,469.39 521.49,464.94 538.48,478.30 555.48,451.58 572.47,478.30 589.47,478.30 606.47,478.30 623.46,478.30 640.46,478.30 657.45,478.30 674.45,473.85 691.45,473.85 708.44,478.30 725.44,478.30 742.43,478.30 759.43,478.30 776.43,478.30 793.42,478.30 810.42,478.30 827.41,478.30 844.41,478.30 861.41,478.30 878.40,478.30 895.40,478.30 912.39,478.30 929.39,478.30 946.39,478.30" fill="none" stroke="#008000" stroke-width="2.778" stroke-linejoin="round" stroke-linecap="butt" stroke-dasharray="10.28,4.44"/>
<circle cx="79.50" cy="478.50" r="4.167" fill="#008000" stroke="#008000" stroke-width="1.389"/>
<circle cx="96.50" cy="478.50" r="4.167" fill="#008000" stroke="#008000" stroke-width="1.389"/>
<circle cx="113.50" cy="478.50" r="4.167" fill="#008000" stroke="#008000" stroke-width="1.389"/>
<circle cx="130.50" cy="478.50" r="4.167" fill="#008000" stroke="#008000" stroke-width="1.389"/>
<circle cx="147.50" cy="478.50" r="4.167" fill="#008000" stroke="#008000" stroke-width="1.389"/>
<circle cx="164.50" cy="478.50" r="4.167" fill="#008000" stroke="#008000" stroke-width="1.389"/>
<circle cx="181.50" cy="478.50" r="4.167" fill="#008000" stroke="#008000" stroke-width="1.389"/>
<circle cx="198.50" cy="478.50" r="4.167" fill="#008000" stroke="#008000" stroke-width="1.389"/>
<circle cx="215.50" cy="478.50" r="4.167" fill="#008000" stroke="#008000" stroke-width="1.389"/>
<circle cx="232.50" cy="478.50" r="4.167" fill="#008000" stroke="#008000" stroke-width="1.389"/>
<circle cx="249.50" cy="478.50" r="4.167" fill="#008000" stroke="#008000" stroke-width="1.389"/>
<circle cx="266.50" cy="478.50" r="4.167" fill="#008000" stroke="#008000" stroke-width="1.389"/>
<circle cx="283.50" cy="478.50" r="4.167" fill="#008000" stroke="#008000" stroke-width="1.389"/>
<circle cx="300.50" cy="478.50" r="4.167" fill="#008000" stroke="#008000" stroke-width="1.389"/>
<circle cx="317.50" cy="478.50" r="4.167" fill="#008000" stroke="#008000" stroke-width="1.389"/>
<circle cx="334.50" cy="478.50" r="4.167" fill="#008000" stroke="#008000" stroke-width="1.389"/>
<circle cx="351.50" cy="478.50" r="4.167" fill="#008000" stroke="#008000" stroke-width="1.389"/>
<circle cx="368.50" cy="478.50" r="4.167" fill="#008000" stroke="#008000" stroke-width="1.389"/>
<circle cx="385.50" cy="478.50" r="4.167" fill="#008000" stroke="#008000" stroke-width="1.389"/>
<circle cx="402.50" cy="478.50" r="4.167" fill="#008000" stroke="#008000" stroke-width="1.389"/>
<circle cx="419.50" cy="473.50" r="4.167" fill="#008000" stroke="#008000" stroke-width="1.389"/>
<circle cx="436.50" cy="469.50" r="4.167" fill="#008000" stroke="#008000" stroke-width="1.389"/>
<circle cx="453.50" cy="464.50" r="4.167" fill="#008000" stroke="#008000" stroke-width="1.389"/>
<circle cx="470.50" cy="473.50" r="4.167" fill="#008000" stroke="#008000" stroke-width="1.389"/>
<circle cx="487.50" cy="478.50" r="4.167" fill="#008000" stroke="#008000" stroke-width="1.389"/>
<circle cx="504.50" cy="469.50" r="4.167" fill="#008000" stroke="#008000" stroke-width="1.389"/>
<circle cx="521.50" cy="464.50" r="4.167" fill="#008000" stroke="#008000" stroke-width="1.389"/>
<circle cx="538.50" cy="478.50" r="4.167" fill="#008000" stroke="#008000" stroke-width="1.389"/>
<circle cx="555.50" cy="451.50" r="4.167" fill="#008000" stroke="#008000" stroke-width="1.389"/>
<circle cx="572.50" cy="478.50" r="4.167" fill="#008000" stroke="#008000" stroke-width="1.389"/>
<circle cx="589.50" cy="478.50" r="4.167" fill="#008000" stroke="#008000" stroke-width="1.389"/>
<circle cx="606.50" cy="478.50" r="4.167" fill="#008000" stroke="#008000" stroke-width="1.389"/>
<circle cx="623.50" cy="478.50" r="4.167" fill="#008000" stroke="#008000" stroke-width="1.389"/>
<circle cx="640.50" cy="478.50" r="4.167" fill="#008000" stroke="#008000" stroke-width="1.389"/>
<circle cx="657.50" cy="478.50" r="4.167" fill="#008000" stroke="#008000" stroke-width="1.389"/>
<circle cx="674.50" cy="473.50" r="4.167" fill="#008000" stroke="#008000" stroke-width="1.389"/>
<circle cx="691.50" cy="473.50" r="4.167" fill="#008000" stroke="#008000" stroke-width="1.389"/>
<circle cx="708.50" cy="478.50" r="4.167" fill="#008000" stroke="#008000" stroke-width="1.389"/>
<circle cx="725.50" cy="478.50" r="4.167" fill="#008000" stroke="#008000" stroke-width="1.389"/>
<circle cx="742.50" cy="478.50" r="4.167" fill="#008000" stroke="#008000" stroke-width="1.389"/>
<circle cx="759.50" cy="478.50" r="4.167" fill="#008000" stroke="#008000" stroke-width="1.389"/>
<circle cx="776.50" cy="478.50" r="4.167" fill="#008000" stroke="#008000" stroke-width="1.389"/>
<circle cx="793.50" cy="478.50" r="4.167" fill="#008000" stroke="#008000" stroke-width="1.389"/>
<circle cx="810.50" cy="478.50" r="4.167" fill="#008000" stroke="#008000" stroke-width="1.389"/>
<circle cx="827.50" cy="478.50" r="4.167" fill="#008000" stroke="#008000" stroke-width="1.389"/>
<circle cx="844.50" cy="478.50" r="4.167" fill="#008000" stroke="#008000" stroke-width="1.389"/>
<circle cx="861.50" cy="478.50" r="4.167" fill="#008000" stroke="#008000" stroke-width="1.389"/>
<circle cx="878.50" cy="478.50" r="4.167" fill="#008000" stroke="#008000" stroke-width="1.389"/>
<circle cx="895.50" cy="478.50" r="4.167" fill="#008000" stroke="#008000" stroke-width="1.389"/>
<circle cx="912.50" cy="478.50" r="4.167" fill="#008000" stroke="#008000" stroke-width="1.389"/>
<circle cx="929.50" cy="478.50" r="4.167" fill="#008000" stroke="#008000" stroke-width="1.389"/>
<circle cx="946.50" cy="478.50" r="4.167" fill="#008000" stroke="#008000" stroke-width="1.389"/>
<polyline points="79.59,478.30 96.59,478.30 113.58,478.30 130.58,478.30 147.57,478.30 164.57,478.30 181.57,478.30 198.56,478.30 215.56,478.30 232.55,478.30 249.55,478.30 266.55,473.85 283.54,478.30 300.54,478.30 317.53,478.30 334.53,478.30 351.53,478.30 368.52,478.30 385.52,478.30 402.51,473.85 419.51,478.30 436.51,473.85 453.50,469.39 470.50,460.48 487.49,478.30 504.49,478.30 521.49,478.30 538.48,478.30 555.48,473.85 572.47,478.30 589.47,478.30 606.47,478.30 623.46,478.30 640.46,478.30 657.45,473.85 674.45,478.30 691.45,478.30 708.44,478.30 725.44,478.30 742.43,473.85 759.43,478.30 776.43,478.30 793.42,478.30 810.42,478.30 827.41,478.30 844.41,478.30 861.41,478.30 878.40,478.30 895.40,478.30 912.39,478.30 929.39,478.30 946.39,478.30" fill="none" stroke="#0000ff" stroke-width="2.778" stroke-linejoin="round" stroke-linecap="butt" stroke-dasharray="10.28,4.44"/>
<circle cx="79.50" cy="478.50" r="4.167" fill="#0000ff" stroke="#0000ff" stroke-width="1.389"/>
<circle cx="96.50" cy="478.50" r="4.167" fill="#0000ff" stroke="#0000ff" stroke-width="1.389"/>
<circle cx="113.50" cy="478.50" r="4.167" fill="#0000ff" stroke="#0000ff" stroke-width="1.389"/>
<circle cx="130.50" cy="478.50" r="4.167" fill="#0000ff" stroke="#0000ff" stroke-width="1.389"/>
<circle cx="147.50" cy="478.50" r="4.167" fill="#0000ff" stroke="#0000ff" stroke-width="1.389"/>
<circle cx="164.50" cy="478.50" r="4.167" fill="#0000ff" stroke="#0000ff" stroke-width="1.389"/>
<circle cx="181.50" cy="478.50" r="4.167" fill="#0000ff" stroke="#0000ff" stroke-width="1.389"/>
<circle cx="198.50" cy="478.50" r="4.167" fill="#0000ff" stroke="#0000ff" stroke-width="1.389"/>
<circle cx="215.50" cy="478.50" r="4.167" fill="#0000ff" stroke="#0000ff" stroke-width="1.389"/>
<circle cx="232.50" cy="478.50" r="4.167" fill="#0000ff" stroke="#0000ff" stroke-width="1.389"/>
<circle cx="249.50" cy="478.50" r="4.167" fill="#0000ff" stroke="#0000ff" stroke-width="1.389"/>
<circle cx="266.50" cy="473.50" r="4.167" fill="#0000ff" stroke="#0000ff" stroke-width="1.389"/>
<circle cx="283.50" cy="478.50" r="4.167" fill="#0000ff" stroke="#0000ff" stroke-width="1.389"/>
<circle cx="300.50" cy="478.50" r="4.167" fill="#0000ff" stroke="#0000ff" stroke-width="1.389"/>
<circle cx="317.50" cy="478.50" r="4.167" fill="#0000ff" stroke="#0000ff" stroke-width="1.389"/>
<circle cx="334.50" cy="478.50" r="4.167" fill="#0000ff" stroke="#0000ff" stroke-width="1.389"/>
<circle cx="351.50" cy="478.50" r="4.167" fill="#0000ff" stroke="#0000ff" stroke-width="1.389"/>
<circle cx="368.50" cy="478.50" r="4.167" fill="#0000ff" stroke="#0000ff" stroke-width="1.389"/>
<circle cx="385.50" cy="478.50" r="4.167" fill="#0000ff" stroke="#0000ff" stroke-width="1.389"/>
<circle cx="402.50" cy="473.50" r="4.167" fill="#0000ff" stroke="#0000ff" stroke-width="1.389"/>
<circle cx="419.50" cy="478.50" r="4.167" fill="#0000ff" stroke="#0000ff" stroke-width="1.389"/>
<circle cx="436.50" cy="473.50" r="4.167" fill="#0000ff" stroke="#0000ff" stroke-width="1.389"/>
<circle cx="453.50" cy="469.50" r="4.167" fill="#0000ff" stroke="#0000ff" stroke-width="1.389"/>
<circle cx="470.50" cy="460.50" r="4.167" fill="#0000ff" stroke="#0000ff" stroke-width="1.389"/>
<circle cx="487.50" cy="478.50" r="4.167" fill="#0000ff" stroke="#0000ff" stroke-width="1.389"/>
<circle cx="504.50" cy="478.50" r="4.167" fill="#0000ff" stroke="#0000ff" stroke-width="1.389"/>
<circle cx="521.50" cy="478.50" r="4.167" fill="#0000ff" stroke="#0000ff" stroke-width="1.389"/>
<circle cx="538.50" cy="478.50" r="4.167" fill="#0000ff" stroke="#0000ff" stroke-width="1.389"/>
<circle cx="555.50" cy="473.50" r="4.167" fill="#0000ff" stroke="#0000ff" stroke-width="1.389"/>
<circle cx="572.50" cy="478.50" r="4.167" fill="#0000ff" stroke="#0000ff" stroke-width="1.389"/>
<circle cx="589.50" cy="478.50" r="4.167" fill="#0000ff" stroke="#0000ff" stroke-width="1.389"/>
<circle cx="606.50" cy="478.50" r="4.167" fill="#0000ff" stroke="#0000ff" stroke-width="1.389"/>
<circle cx="623.50" cy="478.50" r="4.167" fill="#0000ff" stroke="#0000ff" stroke-width="1.389"/>
<circle cx="640.50" cy="478.50" r="4.167" fill="#0000ff" stroke="#0000ff" stroke-width="1.389"/>
<circle cx="657.50" cy="473.50" r="4.167" fill="#0000ff" stroke="#0000ff" stroke-width="1.389"/>
<circle cx="674.50" cy="478.50" r="4.167" fill="#0000ff" stroke="#0000ff" stroke-width="1.389"/>
<circle cx="691.50" cy="478.50" r="4.167" fill="#0000ff" stroke="#0000ff" stroke-width="1.389"/>
<circle cx="708.50" cy="478.50" r="4.167" fill="#0000ff" stroke="#0000ff" stroke-width="1.389"/>
<circle cx="725.50" cy="478.50" r="4.167" fill="#0000ff" stroke="#0000ff" stroke-width="1.389"/>
<circle cx="742.50" cy="473.50" r="4.167" fill="#0000ff" stroke="#0000ff" stroke-width="1.389"/>
<circle cx="759.50" cy="478.50" r="4.167" fill="#0000ff" stroke="#0000ff" stroke-width="1.389"/>
<circle cx="776.50" cy="478.50" r="4.167" fill="#0000ff" stroke="#0000ff" stroke-width="1.389"/>
<circle cx="793.50" cy="478.50" r="4.167" fill="#0000ff" stroke="#0000ff" stroke-width="1.389"/>
<circle cx="810.50" cy="478.50" r="4.167" fill="#0000ff" stroke="#0000ff" stroke-width="1.389"/>
<circle cx="827.50" cy="478.50" r="4.167" fill="#0000ff" stroke="#0000ff" stroke-width="1.389"/>
<circle cx="844.50" cy="478.50" r="4.167" fill="#0000ff" stroke="#0000ff" stroke-width="1.389"/>
<circle cx="861.50" cy="478.50" r="4.167" fill="#0000ff" stroke="#0000ff" stroke-width="1.389"/>
<circle cx="878.50" cy="478.50" r="4.167" fill="#0000ff" stroke="#0000ff" stroke-width="1.389"/>
<circle cx="895.50" cy="478.50" r="4.167" fill="#0000ff" stroke="#0000ff" stroke-width="1.389"/>
<circle cx="912.50" cy="478.50" r="4.167" fill="#0000ff" stroke="#0000ff" stroke-width="1.389"/>
<circle cx="929.50" cy="478.50" r="4.167" fill="#0000ff" stroke="#0000ff" stroke-width="1.389"/>
<circle cx="946.50" cy="478.50" r="4.167" fill="#0000ff" stroke="#0000ff" stroke-width="1.389"/>
</g>
<rect x="67.5" y="78.5" width="883.0" height="408.0" fill="none" stroke="#000" stroke-width="1.111" stroke-linejoin="miter"/>
<path d="M67.5,486.5v4.86M101.5,486.5v4.86M142.5,486.5v4.86M176.5,486.5v4.86M210.5,486.5v4.86M244.5,486.5v4.86M285.5,486.5v4.86M319.5,486.5v4.86M358.5,486.5v4.86M392.5,486.5v4.86M434.5,486.5v4.86M468.5,486.5v4.86M506.5,486.5v4.86M540.5,486.5v4.86M582.5,486.5v4.86M616.5,486.5v4.86M657.5,486.5v4.86M691.5,486.5v4.86M730.5,486.5v4.86M764.5,486.5v4.86M805.5,486.5v4.86M839.5,486.5v4.86M878.5,486.5v4.86M912.5,486.5v4.86M67.5,478.5h-4.86M67.5,389.5h-4.86M67.5,300.5h-4.86M67.5,211.5h-4.86M67.5,121.5h-4.86" stroke="#000" stroke-width="1.111"/>
<text x="57.4" y="484.40" text-anchor="end" font-size="13.9">0</text>
<text x="57.4" y="394.40" text-anchor="end" font-size="13.9">2</text>
<text x="57.4" y="305.40" text-anchor="end" font-size="13.9">4</text>
<text x="57.4" y="216.40" text-anchor="end" font-size="13.9">6</text>
<text x="57.4" y="127.40" text-anchor="end" font-size="13.9">8</text>
<text stroke="#000" stroke-width="0.05" transform="translate(64.50,504.80) rotate(-30)" text-anchor="end" font-size="13.9" textLength="39.14" lengthAdjust="spacingAndGlyphs">1 ene</text>
<text stroke="#000" stroke-width="0.05" transform="translate(98.50,504.80) rotate(-30)" text-anchor="end" font-size="13.9" textLength="47.98" lengthAdjust="spacingAndGlyphs">15 ene</text>
<text stroke="#000" stroke-width="0.05" transform="translate(139.50,504.80) rotate(-30)" text-anchor="end" font-size="13.9" textLength="35.50" lengthAdjust="spacingAndGlyphs">1 feb</text>
<text stroke="#000" stroke-width="0.05" transform="translate(173.50,504.80) rotate(-30)" text-anchor="end" font-size="13.9" textLength="44.34" lengthAdjust="spacingAndGlyphs">15 feb</text>
<text stroke="#000" stroke-width="0.05" transform="translate(207.50,504.80) rotate(-30)" text-anchor="end" font-size="13.9" textLength="41.00" lengthAdjust="spacingAndGlyphs">1 mar</text>
<text stroke="#000" stroke-width="0.05" transform="translate(241.50,504.80) rotate(-30)" text-anchor="end" font-size="13.9" textLength="49.84" lengthAdjust="spacingAndGlyphs">15 mar</text>
<text stroke="#000" stroke-width="0.05" transform="translate(282.50,504.80) rotate(-30)" text-anchor="end" font-size="13.9" textLength="36.29" lengthAdjust="spacingAndGlyphs">1 abr</text>
<text stroke="#000" stroke-width="0.05" transform="translate(316.50,504.80) rotate(-30)" text-anchor="end" font-size="13.9" textLength="45.13" lengthAdjust="spacingAndGlyphs">15 abr</text>
<text stroke="#000" stroke-width="0.05" transform="translate(355.50,504.80) rotate(-30)" text-anchor="end" font-size="13.9" textLength="43.51" lengthAdjust="spacingAndGlyphs">1 may</text>
<text stroke="#000" stroke-width="0.05" transform="translate(389.50,504.80) rotate(-30)" text-anchor="end" font-size="13.9" textLength="52.35" lengthAdjust="spacingAndGlyphs">15 may</text>
<text stroke="#000" stroke-width="0.05" transform="translate(431.50,504.80) rotate(-30)" text-anchor="end" font-size="13.9" textLength="34.72" lengthAdjust="spacingAndGlyphs">1 jun</text>
<text stroke="#000" stroke-width="0.05" transform="translate(465.50,504.80) rotate(-30)" text-anchor="end" font-size="13.9" textLength="43.55" lengthAdjust="spacingAndGlyphs">15 jun</text>
<text stroke="#000" stroke-width="0.05" transform="translate(503.50,504.80) rotate(-30)" text-anchor="end" font-size="13.9" textLength="29.77" lengthAdjust="spacingAndGlyphs">1 jul</text>
<text stroke="#000" stroke-width="0.05" transform="translate(537.50,504.80) rotate(-30)" text-anchor="end" font-size="13.9" textLength="38.61" lengthAdjust="spacingAndGlyphs">15 jul</text>
<text stroke="#000" stroke-width="0.05" transform="translate(579.50,504.80) rotate(-30)" text-anchor="end" font-size="13.9" textLength="39.08" lengthAdjust="spacingAndGlyphs">1 ago</text>
<text stroke="#000" stroke-width="0.05" transform="translate(613.50,504.80) rotate(-30)" text-anchor="end" font-size="13.9" textLength="47.91" lengthAdjust="spacingAndGlyphs">15 ago</text>
<text stroke="#000" stroke-width="0.05" transform="translate(654.50,504.80) rotate(-30)" text-anchor="end" font-size="13.9" textLength="37.85" lengthAdjust="spacingAndGlyphs">1 sep</text>
<text stroke="#000" stroke-width="0.05" transform="translate(688.50,504.80) rotate(-30)" text-anchor="end" font-size="13.9" textLength="46.69" lengthAdjust="spacingAndGlyphs">15 sep</text>
<text stroke="#000" stroke-width="0.05" transform="translate(727.50,504.80) rotate(-30)" text-anchor="end" font-size="13.9" textLength="34.83" lengthAdjust="spacingAndGlyphs">1 oct</text>
<text stroke="#000" stroke-width="0.05" transform="translate(761.50,504.80) rotate(-30)" text-anchor="end" font-size="13.9" textLength="43.67" lengthAdjust="spacingAndGlyphs">15 oct</text>
<text stroke="#000" stroke-width="0.05" transform="translate(802.50,504.80) rotate(-30)" text-anchor="end" font-size="13.9" textLength="38.77" lengthAdjust="spacingAndGlyphs">1 nov</text>
<text stroke="#000" stroke-width="0.05" transform="translate(836.50,504.80) rotate(-30)" text-anchor="end" font-size="13.9" textLength="47.61" lengthAdjust="spacingAndGlyphs">15 nov</text>
<text stroke="#000" stroke-width="0.05" transform="translate(875.50,504.80) rotate(-30)" text-anchor="end" font-size="13.9" textLength="33.56" lengthAdjust="spacingAndGlyphs">1 dic</text>
<text stroke="#000" stroke-width="0.05" transform="translate(909.50,504.80) rotate(-30)" text-anchor="end" font-size="13.9" textLength="42.40" lengthAdjust="spacingAndGlyphs">15 dic</text>
<rect x="74.5" y="85.5" width="152.0" height="212.8" rx="2.8" fill="#fff" fill-opacity="0.8" stroke="#cccccc" stroke-opacity="0.8" stroke-width="1.111"/>
<path d="M80.7,96.50H121.3" stroke="#000000" stroke-width="2.778" fill="none" stroke-linecap="square"/>
<path d="M101.20,90.61L107.09,96.50L101.20,102.39L95.31,96.50Z" fill="#000000" stroke="#000000" stroke-width="1.389" stroke-linejoin="miter"/>
<text x="130.20" y="100.90" font-size="13.9" textLength="55.37" lengthAdjust="spacingAndGlyphs">C?ameli</text>
<path d="M80.7,117.50H121.3" stroke="#ff0000" stroke-width="2.778" fill="none" stroke-linecap="square"/>
<path d="M101.20,111.61L107.09,117.50L101.20,123.39L95.31,117.50Z" fill="#ff0000" stroke="#ff0000" stroke-width="1.389" stroke-linejoin="miter"/>
<text x="130.20" y="121.90" font-size="13.9" textLength="39.90" lengthAdjust="spacingAndGlyphs">Ayas?</text>
<path d="M80.7,138.50H121.3" stroke="#008000" stroke-width="2.778" fill="none" stroke-linecap="square"/>
<path d="M101.20,132.61L107.09,138.50L101.20,144.39L95.31,138.50Z" fill="#008000" stroke="#008000" stroke-width="1.389" stroke-linejoin="miter"/>
<text x="130.20" y="142.90" font-size="13.9" textLength="90.69" lengthAdjust="spacingAndGlyphs">Hasan Dag??</text>
<path d="M80.7,159.50H121.3" stroke="#0000ff" stroke-width="2.778" fill="none" stroke-linecap="square"/>
<path d="M101.20,153.61L107.09,159.50L101.20,165.39L95.31,159.50Z" fill="#0000ff" stroke="#0000ff" stroke-width="1.389" stroke-linejoin="miter"/>
<text x="130.20" y="163.90" font-size="13.9" textLength="49.66" lengthAdjust="spacingAndGlyphs">Ali Dag</text>
<path d="M80.7,180.50H121.3" stroke="#00bfbf" stroke-width="2.778" fill="none" stroke-linecap="square"/>
<path d="M101.20,174.61L107.09,180.50L101.20,186.39L95.31,180.50Z" fill="#00bfbf" stroke="#00bfbf" stroke-width="1.389" stroke-linejoin="miter"/>
<text x="130.20" y="184.90" font-size="13.9" textLength="45.72" lengthAdjust="spacingAndGlyphs">Cemre</text>
<path d="M80.7,201.50H121.3" stroke="#bf00bf" stroke-width="2.778" fill="none" stroke-linecap="square"/>
<path d="M101.20,195.61L107.09,201.50L101.20,207.39L95.31,201.50Z" fill="#bf00bf" stroke="#bf00bf" stroke-width="1.389" stroke-linejoin="miter"/>
<text x="130.20" y="205.90" font-size="13.9" textLength="32.33" lengthAdjust="spacingAndGlyphs">Narli</text>
<path d="M80.7,222.50H121.3" stroke="#000000" stroke-width="2.778" fill="none" stroke-linecap="butt" stroke-dasharray="10.28,4.44"/>
<circle cx="101.20" cy="222.50" r="4.167" fill="#000000" stroke="#000000" stroke-width="1.389"/>
<text x="130.20" y="226.90" font-size="13.9" textLength="7.37" lengthAdjust="spacingAndGlyphs">?</text>
<path d="M80.7,243.50H121.3" stroke="#ff0000" stroke-width="2.778" fill="none" stroke-linecap="butt" stroke-dasharray="10.28,4.44"/>
<circle cx="101.20" cy="243.50" r="4.167" fill="#ff0000" stroke="#ff0000" stroke-width="1.389"/>
<text x="130.20" y="247.90" font-size="13.9" textLength="61.51" lengthAdjust="spacingAndGlyphs">Babadag</text>
<path d="M80.7,264.50H121.3" stroke="#008000" stroke-width="2.778" fill="none" stroke-linecap="butt" stroke-dasharray="10.28,4.44"/>
<circle cx="101.20" cy="264.50" r="4.167" fill="#008000" stroke="#008000" stroke-width="1.389"/>
<text x="130.20" y="268.90" font-size="13.9" textLength="53.98" lengthAdjust="spacingAndGlyphs">Cokelez</text>
<path d="M80.7,285.50H121.3" stroke="#0000ff" stroke-width="2.778" fill="none" stroke-linecap="butt" stroke-dasharray="10.28,4.44"/>
<circle cx="101.20" cy="285.50" r="4.167" fill="#0000ff" stroke="#0000ff" stroke-width="1.389"/>
<text x="130.20" y="289.90" font-size="13.9" textLength="58.83" lengthAdjust="spacingAndGlyphs">Bozdag?</text>
</svg></body></html>
